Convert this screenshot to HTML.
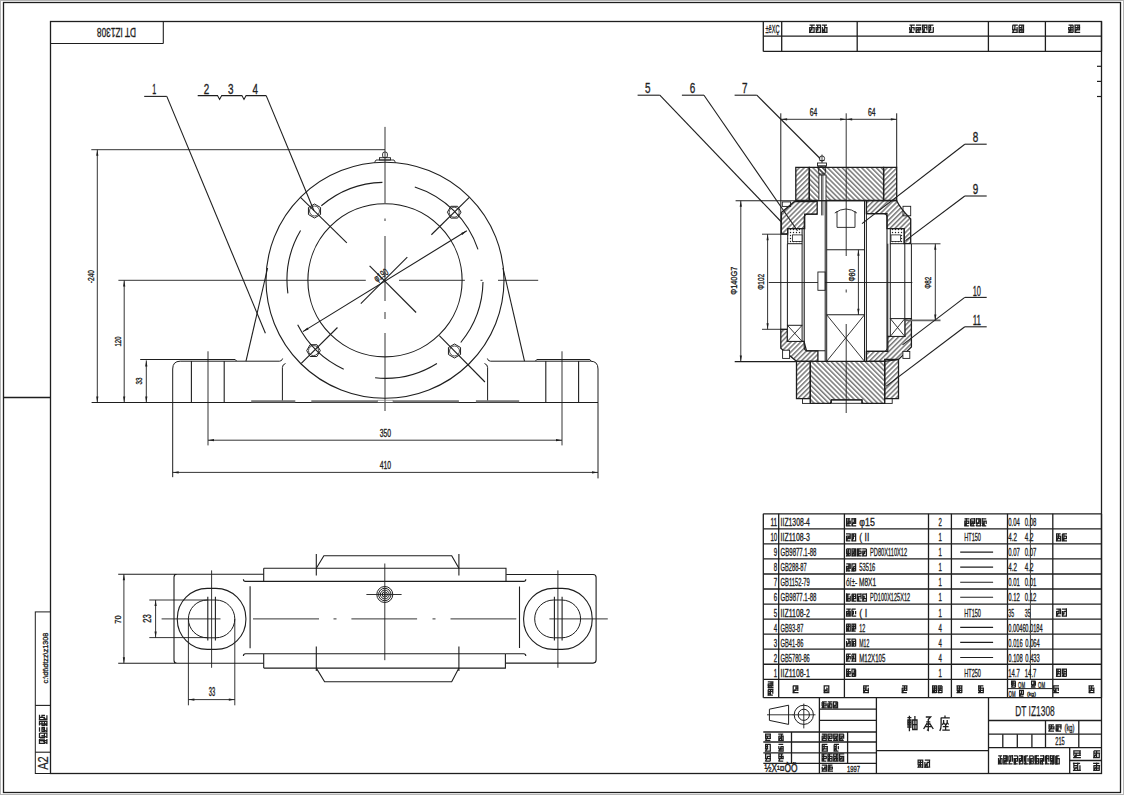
<!DOCTYPE html>
<html><head><meta charset="utf-8"><style>
html,body{margin:0;padding:0;background:#fff;overflow:hidden}
svg{display:block}
</style></head><body>
<svg width="1124" height="795" viewBox="0 0 1124 795" shape-rendering="geometricPrecision">
<defs>
<pattern id="hb" width="3.45" height="20" patternUnits="userSpaceOnUse" patternTransform="rotate(-45)"><line x1="0.8" y1="0" x2="0.8" y2="20" stroke="#1e1e1e" stroke-width="0.9"/></pattern>
<pattern id="hf" width="3.45" height="20" patternUnits="userSpaceOnUse" patternTransform="rotate(45)"><line x1="0.8" y1="0" x2="0.8" y2="20" stroke="#1e1e1e" stroke-width="0.9"/></pattern>
<pattern id="felt" width="3" height="3" patternUnits="userSpaceOnUse"><circle cx="1.5" cy="1.5" r="0.7" fill="#1e1e1e"/></pattern>
</defs>
<rect width="1124" height="795" fill="#fff"/>
<rect x="0" y="0" width="1124" height="1" fill="#b4b4b4"/>
<rect x="0" y="0" width="1" height="795" fill="#b4b4b4"/>
<rect x="1123" y="0" width="1" height="795" fill="#b4b4b4"/>
<rect x="0" y="794" width="1124" height="1" fill="#b4b4b4"/>
<rect x="3.50" y="2.50" width="1117.00" height="790.00" rx="0" fill="none" stroke="#1e1e1e" stroke-width="1.3"/>
<rect x="50.50" y="21.50" width="1051.00" height="752.00" rx="0" fill="none" stroke="#1e1e1e" stroke-width="1.3"/>
<line x1="3.50" y1="397.50" x2="50.50" y2="397.50" stroke="#1e1e1e" stroke-width="1.3" />
<line x1="1097.00" y1="66.30" x2="1101.50" y2="66.30" stroke="#1e1e1e" stroke-width="1.2" />
<line x1="1097.00" y1="81.40" x2="1101.50" y2="81.40" stroke="#1e1e1e" stroke-width="1.2" />
<line x1="1097.00" y1="96.50" x2="1101.50" y2="96.50" stroke="#1e1e1e" stroke-width="1.2" />
<rect x="35.30" y="611.90" width="15.20" height="161.60" rx="0" fill="none" stroke="#1e1e1e" stroke-width="1.0"/>
<line x1="35.30" y1="705.40" x2="50.50" y2="705.40" stroke="#1e1e1e" stroke-width="1.1" />
<line x1="35.30" y1="752.20" x2="50.50" y2="752.20" stroke="#1e1e1e" stroke-width="1.1" />
<text x="47.60" y="658.00" font-family="Liberation Sans" font-size="8" font-weight="normal" text-anchor="middle" fill="#1e1e1e" stroke="#1e1e1e" stroke-width="0.35" textLength="50.8" lengthAdjust="spacingAndGlyphs" transform="rotate(-90 47.60 658.00)">c:\dt\dtzz\z1308</text>
<path d="M39.35,744.70H43.75M41.27,747.17H41.82M38.80,749.63H41.82M39.35,752.10H43.75M39.46,744.00V750.16M42.10,744.00V752.36M43.64,744.88V750.16M39.07,752.62L41.27,748.40M45.02,744.70H49.70M47.23,747.17H47.77M44.75,749.63H49.70M44.75,752.10H50.25M45.41,744.00V750.16M46.95,746.64V750.16M49.59,744.88V752.36M45.02,752.62L47.23,748.40M50.97,744.70H55.65M51.25,747.17H55.65M50.70,749.63H55.65M51.25,752.10H55.65M51.36,746.64V750.16M54.00,746.64V750.16M55.54,746.64V750.16M50.97,752.62L53.17,748.40M57.20,744.70H62.15M57.20,747.17H62.15M59.12,749.63H62.15M57.20,752.10H61.60M57.31,746.64V750.16M58.85,744.00V752.80M61.49,744.88V752.80M56.92,752.62L59.12,748.40M63.15,744.70H68.10M65.07,747.17H68.10M62.60,749.63H65.62M63.15,752.10H67.55M63.26,744.00V752.36M65.35,744.88V750.16M67.44,746.64V750.16M62.87,752.62L65.07,748.40" stroke="#1e1e1e" stroke-width="1.25" fill="none" transform="rotate(-90 38.80 744.00)"/>
<text x="48.40" y="763.00" font-family="Liberation Sans" font-size="14.5" font-weight="normal" text-anchor="middle" fill="#1e1e1e" stroke="#1e1e1e" stroke-width="0.2" textLength="13.6" lengthAdjust="spacingAndGlyphs" transform="rotate(-90 48.40 763.00)">A2</text>
<line x1="163.30" y1="21.50" x2="163.30" y2="43.50" stroke="#1e1e1e" stroke-width="1.1" />
<line x1="50.50" y1="43.50" x2="163.30" y2="43.50" stroke="#1e1e1e" stroke-width="1.1" />
<text x="116.50" y="28.00" font-family="Liberation Sans" font-size="13" font-weight="normal" text-anchor="middle" fill="#1e1e1e" stroke="#1e1e1e" stroke-width="0.35" textLength="39.0" lengthAdjust="spacingAndGlyphs" transform="rotate(180 116.50 28.00)">DT IZ1308</text>
<ellipse cx="385.00" cy="280.30" rx="119.00" ry="118.00" fill="none" stroke="#1e1e1e" stroke-width="1.1"/>
<ellipse cx="385.00" cy="280.30" rx="77.10" ry="76.60" fill="none" stroke="#1e1e1e" stroke-width="1.1"/>
<path d="M321.35,205.78 A98.00,98.00 0 0 1 382.43,182.33" fill="none" stroke="#1e1e1e" stroke-width="1.1" />
<path d="M414.80,186.94 A98.00,98.00 0 0 1 477.99,249.37" fill="none" stroke="#1e1e1e" stroke-width="1.1" />
<path d="M287.88,293.43 A98.00,98.00 0 0 1 300.56,230.56" fill="none" stroke="#1e1e1e" stroke-width="1.1" />
<path d="M482.99,282.01 A98.00,98.00 0 0 1 460.73,342.50" fill="none" stroke="#1e1e1e" stroke-width="1.1" />
<path d="M343.74,369.19 A98.00,98.00 0 0 1 297.68,324.79" fill="none" stroke="#1e1e1e" stroke-width="1.1" />
<path d="M436.93,363.41 A98.00,98.00 0 0 1 375.10,377.80" fill="none" stroke="#1e1e1e" stroke-width="1.1" />
<polygon points="314.50,218.00 308.44,214.50 308.44,207.50 314.50,204.00 320.56,207.50 320.56,214.50" fill="none" stroke="#1e1e1e" stroke-width="1.0" />
<circle cx="314.50" cy="211.00" r="5.00" fill="none" stroke="#1e1e1e" stroke-width="0.8"/>
<polygon points="461.00,212.20 457.60,218.09 450.80,218.09 447.40,212.20 450.80,206.31 457.60,206.31" fill="none" stroke="#1e1e1e" stroke-width="1.0" />
<circle cx="454.20" cy="212.20" r="5.00" fill="none" stroke="#1e1e1e" stroke-width="0.8"/>
<polygon points="320.30,350.60 316.90,356.49 310.10,356.49 306.70,350.60 310.10,344.71 316.90,344.71" fill="none" stroke="#1e1e1e" stroke-width="1.0" />
<circle cx="313.50" cy="350.60" r="5.00" fill="none" stroke="#1e1e1e" stroke-width="0.8"/>
<polygon points="454.50,358.00 448.44,354.50 448.44,347.50 454.50,344.00 460.56,347.50 460.56,354.50" fill="none" stroke="#1e1e1e" stroke-width="1.0" />
<circle cx="454.50" cy="351.00" r="5.00" fill="none" stroke="#1e1e1e" stroke-width="0.8"/>
<line x1="346.84" y1="242.80" x2="300.27" y2="197.03" stroke="#1e1e1e" stroke-width="1.1" />
<line x1="431.36" y1="234.74" x2="469.31" y2="197.45" stroke="#1e1e1e" stroke-width="1.1" />
<line x1="337.46" y1="327.51" x2="301.27" y2="363.45" stroke="#1e1e1e" stroke-width="1.1" />
<line x1="439.32" y1="335.58" x2="484.95" y2="382.01" stroke="#1e1e1e" stroke-width="1.1" />
<line x1="369.60" y1="265.90" x2="416.10" y2="312.50" stroke="#1e1e1e" stroke-width="1.1" />
<line x1="407.30" y1="257.10" x2="360.80" y2="303.60" stroke="#1e1e1e" stroke-width="1.1" />
<line x1="302.90" y1="331.60" x2="466.80" y2="230.80" stroke="#1e1e1e" stroke-width="1.1" />
<polygon points="466.80,230.80 462.27,234.88 461.11,233.01" fill="#1e1e1e"/>
<polygon points="302.90,331.60 307.43,327.52 308.59,329.39" fill="#1e1e1e"/>
<text x="383.00" y="278.00" font-family="Liberation Sans" font-size="10" font-weight="normal" text-anchor="middle" fill="#1e1e1e" stroke="#1e1e1e" stroke-width="0.35" textLength="15.0" lengthAdjust="spacingAndGlyphs" transform="rotate(-35 383.00 278.00)">&#966;190</text>
<line x1="385.00" y1="126.90" x2="385.00" y2="203.00" stroke="#1e1e1e" stroke-width="0.9" />
<line x1="385.00" y1="218.50" x2="385.00" y2="221.00" stroke="#1e1e1e" stroke-width="0.9" />
<line x1="385.00" y1="236.00" x2="385.00" y2="301.00" stroke="#1e1e1e" stroke-width="0.9" />
<line x1="385.00" y1="312.00" x2="385.00" y2="319.00" stroke="#1e1e1e" stroke-width="0.9" />
<line x1="385.00" y1="333.00" x2="385.00" y2="411.00" stroke="#1e1e1e" stroke-width="0.9" />
<line x1="118.40" y1="280.30" x2="365.80" y2="280.30" stroke="#1e1e1e" stroke-width="0.9" />
<line x1="399.00" y1="280.30" x2="464.90" y2="280.30" stroke="#1e1e1e" stroke-width="0.9" />
<line x1="480.50" y1="280.30" x2="482.50" y2="280.30" stroke="#1e1e1e" stroke-width="0.9" />
<line x1="498.00" y1="280.30" x2="538.20" y2="280.30" stroke="#1e1e1e" stroke-width="0.9" />
<rect x="382.6" y="152.1" width="4.8" height="5.6" rx="1.8" fill="none" stroke="#1e1e1e" stroke-width="0.9"/>
<rect x="379.50" y="157.70" width="11.00" height="2.30" rx="0" fill="none" stroke="#1e1e1e" stroke-width="0.9"/>
<path d="M374.5,162.5 L376,160 L394,160 L395.5,162.5" fill="none" stroke="#1e1e1e" stroke-width="0.9" />
<line x1="91.30" y1="149.70" x2="385.00" y2="149.70" stroke="#1e1e1e" stroke-width="0.9" />
<line x1="246.00" y1="361.20" x2="267.60" y2="268.00" stroke="#1e1e1e" stroke-width="1.1" />
<line x1="524.50" y1="361.20" x2="503.00" y2="268.00" stroke="#1e1e1e" stroke-width="1.1" />
<path d="M140.2,359.5 H235.2 L236.5,361 M180.2,361.2 H279.5 M180.2,361.2 Q172.7,361.2 172.7,369 V477.2" fill="none" stroke="#1e1e1e" stroke-width="1.0" />
<path d="M490.5,361.2 H590.5 Q598,361.2 598,369 V478.4" fill="none" stroke="#1e1e1e" stroke-width="1.0" />
<line x1="191.40" y1="361.00" x2="191.40" y2="402.50" stroke="#1e1e1e" stroke-width="1.1" />
<line x1="224.20" y1="361.00" x2="224.20" y2="402.50" stroke="#1e1e1e" stroke-width="1.1" />
<line x1="545.80" y1="361.00" x2="545.80" y2="402.50" stroke="#1e1e1e" stroke-width="1.1" />
<line x1="578.60" y1="361.00" x2="578.60" y2="402.50" stroke="#1e1e1e" stroke-width="1.1" />
<line x1="208.00" y1="351.30" x2="208.00" y2="445.40" stroke="#1e1e1e" stroke-width="0.9" />
<line x1="562.00" y1="351.30" x2="562.00" y2="445.40" stroke="#1e1e1e" stroke-width="0.9" />
<path d="M279.5,361.2 Q282,361.2 282.6,358.5 M285.5,363.5 Q282.4,364.5 282.4,367.5 V402.5" fill="none" stroke="#1e1e1e" stroke-width="1.0" />
<path d="M490.5,361.2 Q488,361.2 487.4,358.5 M484.5,363.5 Q487.6,364.5 487.6,367.5 V402.5" fill="none" stroke="#1e1e1e" stroke-width="1.0" />
<path d="M535.5,361 L536.8,359.5 H589.9 L591,361" fill="none" stroke="#1e1e1e" stroke-width="1.0" />
<line x1="91.60" y1="402.50" x2="598.00" y2="402.50" stroke="#1e1e1e" stroke-width="1.1" />
<rect x="251.2" y="400.2" width="44.1" height="2.2" fill="#7a7a7a"/>
<rect x="311.3" y="400.2" width="66.4" height="2.2" fill="#7a7a7a"/>
<rect x="393" y="400.2" width="65.9" height="2.2" fill="#7a7a7a"/>
<rect x="475.9" y="400.2" width="43.3" height="2.2" fill="#7a7a7a"/>
<rect x="377.70" y="400.20" width="15.30" height="2.20" rx="0" fill="none" stroke="#777" stroke-width="0.6"/>
<line x1="97.30" y1="149.70" x2="97.30" y2="402.50" stroke="#1e1e1e" stroke-width="0.9" />
<polygon points="97.30,149.70 98.40,155.70 96.20,155.70" fill="#1e1e1e"/>
<polygon points="97.30,402.50 96.20,396.50 98.40,396.50" fill="#1e1e1e"/>
<text x="94.00" y="276.60" font-family="Liberation Sans" font-size="9" font-weight="normal" text-anchor="middle" fill="#1e1e1e" stroke="#1e1e1e" stroke-width="0.35" textLength="13.2" lengthAdjust="spacingAndGlyphs" transform="rotate(-90 94.00 276.60)">-240</text>
<line x1="124.20" y1="280.40" x2="124.20" y2="402.50" stroke="#1e1e1e" stroke-width="0.9" />
<polygon points="124.20,280.40 125.30,286.40 123.10,286.40" fill="#1e1e1e"/>
<polygon points="124.20,402.50 123.10,396.50 125.30,396.50" fill="#1e1e1e"/>
<text x="120.50" y="341.50" font-family="Liberation Sans" font-size="9" font-weight="normal" text-anchor="middle" fill="#1e1e1e" stroke="#1e1e1e" stroke-width="0.35" textLength="10.0" lengthAdjust="spacingAndGlyphs" transform="rotate(-90 120.50 341.50)">120</text>
<line x1="146.30" y1="360.40" x2="146.30" y2="402.50" stroke="#1e1e1e" stroke-width="0.9" />
<polygon points="146.30,360.40 147.40,366.40 145.20,366.40" fill="#1e1e1e"/>
<polygon points="146.30,402.50 145.20,396.50 147.40,396.50" fill="#1e1e1e"/>
<text x="142.00" y="381.00" font-family="Liberation Sans" font-size="9" font-weight="normal" text-anchor="middle" fill="#1e1e1e" stroke="#1e1e1e" stroke-width="0.35" textLength="7.0" lengthAdjust="spacingAndGlyphs" transform="rotate(-90 142.00 381.00)">33</text>
<line x1="208.00" y1="440.20" x2="562.00" y2="440.20" stroke="#1e1e1e" stroke-width="0.9" />
<polygon points="208.00,440.20 214.00,439.10 214.00,441.30" fill="#1e1e1e"/>
<polygon points="562.00,440.20 556.00,441.30 556.00,439.10" fill="#1e1e1e"/>
<text x="385.40" y="436.80" font-family="Liberation Sans" font-size="11" font-weight="normal" text-anchor="middle" fill="#1e1e1e" stroke="#1e1e1e" stroke-width="0.35" textLength="11.4" lengthAdjust="spacingAndGlyphs">350</text>
<line x1="172.70" y1="472.40" x2="598.00" y2="472.40" stroke="#1e1e1e" stroke-width="0.9" />
<polygon points="172.70,472.40 178.70,471.30 178.70,473.50" fill="#1e1e1e"/>
<polygon points="598.00,472.40 592.00,473.50 592.00,471.30" fill="#1e1e1e"/>
<text x="385.40" y="469.00" font-family="Liberation Sans" font-size="11" font-weight="normal" text-anchor="middle" fill="#1e1e1e" stroke="#1e1e1e" stroke-width="0.35" textLength="11.4" lengthAdjust="spacingAndGlyphs">410</text>
<line x1="144.20" y1="96.40" x2="166.80" y2="96.40" stroke="#1e1e1e" stroke-width="1.1" />
<line x1="166.80" y1="96.40" x2="265.40" y2="333.20" stroke="#1e1e1e" stroke-width="1.1" />
<text x="154.20" y="93.80" font-family="Liberation Sans" font-size="15" font-weight="normal" text-anchor="middle" fill="#1e1e1e" stroke="#1e1e1e" stroke-width="0.35" textLength="4.0" lengthAdjust="spacingAndGlyphs">1</text>
<polyline points="197.70,95.60 217.50,95.60 219.60,99.40 221.70,95.60 241.90,95.60 244.00,99.40 246.10,95.60 266.20,95.60" fill="none" stroke="#1e1e1e" stroke-width="1.1" />
<line x1="266.20" y1="95.60" x2="314.00" y2="210.80" stroke="#1e1e1e" stroke-width="1.1" />
<text x="206.40" y="93.80" font-family="Liberation Sans" font-size="15" font-weight="normal" text-anchor="middle" fill="#1e1e1e" stroke="#1e1e1e" stroke-width="0.35" textLength="5.5" lengthAdjust="spacingAndGlyphs">2</text>
<text x="230.70" y="93.80" font-family="Liberation Sans" font-size="15" font-weight="normal" text-anchor="middle" fill="#1e1e1e" stroke="#1e1e1e" stroke-width="0.35" textLength="5.5" lengthAdjust="spacingAndGlyphs">3</text>
<text x="255.30" y="93.80" font-family="Liberation Sans" font-size="15" font-weight="normal" text-anchor="middle" fill="#1e1e1e" stroke="#1e1e1e" stroke-width="0.35" textLength="5.5" lengthAdjust="spacingAndGlyphs">4</text>
<polygon points="795.80,167.30 809.30,167.30 809.30,200.50 795.80,200.50" fill="url(#hf)" stroke="#1e1e1e" stroke-width="1.3" />
<polygon points="809.30,167.30 883.60,167.30 883.60,200.50 809.30,200.50" fill="url(#hb)" stroke="#1e1e1e" stroke-width="1.3" />
<polygon points="883.60,167.30 896.70,167.30 896.70,200.50 883.60,200.50" fill="url(#hf)" stroke="#1e1e1e" stroke-width="1.3" />
<rect x="818.9" y="175" width="7.1" height="25.5" fill="#fff" stroke="#1e1e1e" stroke-width="0.9"/>
<line x1="821.60" y1="175.00" x2="821.60" y2="215.40" stroke="#1e1e1e" stroke-width="0.8" />
<line x1="822.90" y1="175.00" x2="822.90" y2="215.40" stroke="#1e1e1e" stroke-width="0.8" />
<rect x="817.5" y="163" width="9" height="3" fill="#fff" stroke="#1e1e1e" stroke-width="0.9"/>
<path d="M818,166 L826,166 L825,174 L819,174 Z" fill="url(#hb)" stroke="#1e1e1e" stroke-width="0.9"/>
<circle cx="822.00" cy="158.50" r="2.60" fill="none" stroke="#1e1e1e" stroke-width="0.9"/>
<line x1="822.00" y1="154.50" x2="822.00" y2="163.00" stroke="#1e1e1e" stroke-width="0.8" />
<line x1="819.50" y1="160.50" x2="824.50" y2="160.50" stroke="#1e1e1e" stroke-width="0.8" />
<polygon points="796.50,361.30 810.30,361.30 810.30,398.60 796.50,398.60" fill="url(#hf)" stroke="#1e1e1e" stroke-width="1.3" />
<polygon points="810.30,361.30 884.70,361.30 884.70,403.30 862.00,403.30 862.00,399.90 831.50,399.90 830.40,403.30 810.30,403.30" fill="url(#hb)" stroke="#1e1e1e" stroke-width="1.3" />
<polygon points="884.70,359.50 898.50,359.50 898.50,398.60 884.70,398.60" fill="url(#hf)" stroke="#1e1e1e" stroke-width="1.3" />
<rect x="802.50" y="398.60" width="7.80" height="4.80" rx="0" fill="none" stroke="#1e1e1e" stroke-width="0.9"/>
<rect x="884.70" y="398.60" width="7.50" height="4.80" rx="0" fill="none" stroke="#1e1e1e" stroke-width="0.9"/>
<rect x="831.50" y="399.90" width="30.50" height="3.40" rx="0" fill="none" stroke="#1e1e1e" stroke-width="0.9"/>
<polygon points="781.40,212.50 794.50,201.50 817.20,201.50 817.20,214.20 804.70,214.20 804.70,228.60 787.70,228.60 787.70,234.00 781.40,234.00" fill="url(#hf)" stroke="#1e1e1e" stroke-width="1.3" />
<rect x="782.30" y="201.90" width="8.30" height="4.50" rx="0" fill="none" stroke="#1e1e1e" stroke-width="0.9"/>
<rect x="787.7" y="228.6" width="14.4" height="15.1" fill="url(#felt)" stroke="#1e1e1e" stroke-width="1"/>
<rect x="792.50" y="234.90" width="9.50" height="6.50" rx="0" fill="#fff" stroke="#1e1e1e" stroke-width="0.8"/>
<polygon points="780.80,329.40 787.40,329.40 787.40,341.40 804.00,341.40 806.50,350.80 817.90,350.80 817.90,361.30 796.50,361.30 780.80,348.30" fill="url(#hf)" stroke="#1e1e1e" stroke-width="1.3" />
<rect x="782.60" y="350.20" width="7.00" height="8.20" rx="0" fill="#fff" stroke="#1e1e1e" stroke-width="0.9"/>
<rect x="787.40" y="325.30" width="14.70" height="16.10" rx="0" fill="#fff" stroke="#1e1e1e" stroke-width="1.0"/>
<line x1="787.40" y1="325.30" x2="802.10" y2="341.40" stroke="#1e1e1e" stroke-width="0.9" />
<line x1="802.10" y1="325.30" x2="787.40" y2="341.40" stroke="#1e1e1e" stroke-width="0.9" />
<path d="M866.4,200.7 H896.7 Q900,208 910.7,219 V243.7 H904.2 V228.6 H887 V213.7 H866.4 Z" fill="url(#hf)" stroke="#1e1e1e" stroke-width="1.3" />
<rect x="903.00" y="206.30" width="7.70" height="9.50" rx="0" fill="none" stroke="#1e1e1e" stroke-width="0.9"/>
<rect x="890.3" y="228.6" width="13.9" height="15.1" fill="url(#felt)" stroke="#1e1e1e" stroke-width="1"/>
<rect x="891.00" y="234.90" width="9.50" height="6.50" rx="0" fill="#fff" stroke="#1e1e1e" stroke-width="0.8"/>
<polygon points="866.40,351.40 887.80,351.40 887.80,336.40 904.80,336.40 904.80,318.60 911.40,318.60 911.40,347.00 898.50,359.50 884.70,361.30 866.40,361.30" fill="url(#hf)" stroke="#1e1e1e" stroke-width="1.3" />
<rect x="902.90" y="351.40" width="6.90" height="7.00" rx="0" fill="#fff" stroke="#1e1e1e" stroke-width="0.9"/>
<rect x="890.30" y="318.60" width="14.50" height="17.80" rx="0" fill="#fff" stroke="#1e1e1e" stroke-width="1.0"/>
<line x1="890.30" y1="318.60" x2="904.80" y2="336.40" stroke="#1e1e1e" stroke-width="0.9" />
<line x1="904.80" y1="318.60" x2="890.30" y2="336.40" stroke="#1e1e1e" stroke-width="0.9" />
<line x1="780.80" y1="113.30" x2="780.80" y2="329.40" stroke="#1e1e1e" stroke-width="1.0" />
<line x1="787.40" y1="243.70" x2="787.40" y2="325.30" stroke="#1e1e1e" stroke-width="1.0" />
<line x1="802.10" y1="243.70" x2="802.10" y2="325.30" stroke="#1e1e1e" stroke-width="1.0" />
<line x1="825.20" y1="200.50" x2="825.20" y2="361.30" stroke="#1e1e1e" stroke-width="1.0" />
<line x1="826.70" y1="200.50" x2="826.70" y2="361.30" stroke="#1e1e1e" stroke-width="1.0" />
<line x1="864.50" y1="200.50" x2="864.50" y2="361.30" stroke="#1e1e1e" stroke-width="1.0" />
<line x1="866.40" y1="200.50" x2="866.40" y2="361.30" stroke="#1e1e1e" stroke-width="1.0" />
<line x1="887.80" y1="243.70" x2="887.80" y2="336.40" stroke="#1e1e1e" stroke-width="1.0" />
<line x1="890.30" y1="243.70" x2="890.30" y2="318.60" stroke="#1e1e1e" stroke-width="1.0" />
<line x1="904.80" y1="243.70" x2="904.80" y2="318.60" stroke="#1e1e1e" stroke-width="1.0" />
<line x1="911.40" y1="243.70" x2="911.40" y2="318.60" stroke="#1e1e1e" stroke-width="1.0" />
<line x1="896.70" y1="113.30" x2="896.70" y2="167.30" stroke="#1e1e1e" stroke-width="1.0" />
<line x1="826.70" y1="249.80" x2="864.50" y2="249.80" stroke="#1e1e1e" stroke-width="1.1" />
<line x1="826.70" y1="314.80" x2="864.50" y2="314.80" stroke="#1e1e1e" stroke-width="1.1" />
<line x1="826.70" y1="314.80" x2="864.50" y2="361.30" stroke="#1e1e1e" stroke-width="0.9" />
<line x1="864.50" y1="314.80" x2="826.70" y2="361.30" stroke="#1e1e1e" stroke-width="0.9" />
<path d="M834.8,213 Q846,205 856.9,213 M837,211 V227.4 H855 V211" fill="none" stroke="#1e1e1e" stroke-width="0.9" />
<rect x="817.90" y="272.00" width="7.30" height="18.30" rx="0" fill="none" stroke="#1e1e1e" stroke-width="0.9"/>
<path d="M817.2,214.2 H807.7 Q804.2,214.2 804.2,217.7 V347.3 Q804.2,350.8 807.7,350.8 H825.2" fill="none" stroke="#1e1e1e" stroke-width="1.1" />
<path d="M866.4,213.7 H883.5 Q887,213.7 887,217.2 V347.9 Q887,351.4 883.5,351.4 H866.4" fill="none" stroke="#1e1e1e" stroke-width="1.1" />
<line x1="735.60" y1="200.70" x2="866.40" y2="200.70" stroke="#1e1e1e" stroke-width="1.1" />
<line x1="734.70" y1="361.60" x2="796.50" y2="361.60" stroke="#1e1e1e" stroke-width="1.1" />
<line x1="762.00" y1="234.20" x2="787.40" y2="234.20" stroke="#1e1e1e" stroke-width="0.9" />
<line x1="762.00" y1="329.30" x2="787.00" y2="329.30" stroke="#1e1e1e" stroke-width="0.9" />
<line x1="911.40" y1="243.80" x2="940.50" y2="243.80" stroke="#1e1e1e" stroke-width="0.9" />
<line x1="905.40" y1="320.40" x2="940.50" y2="320.40" stroke="#666" stroke-width="1.6" />
<line x1="846.20" y1="113.30" x2="846.20" y2="256.00" stroke="#1e1e1e" stroke-width="0.9" />
<line x1="846.20" y1="289.50" x2="846.20" y2="292.50" stroke="#1e1e1e" stroke-width="0.9" />
<line x1="846.20" y1="324.00" x2="846.20" y2="413.00" stroke="#1e1e1e" stroke-width="0.9" />
<line x1="768.70" y1="282.50" x2="817.90" y2="282.50" stroke="#1e1e1e" stroke-width="0.9" />
<line x1="825.20" y1="282.50" x2="912.30" y2="282.50" stroke="#1e1e1e" stroke-width="0.9" />
<line x1="781.10" y1="119.30" x2="896.80" y2="119.30" stroke="#1e1e1e" stroke-width="0.9" />
<polygon points="781.10,119.30 787.10,118.20 787.10,120.40" fill="#1e1e1e"/>
<polygon points="846.20,119.30 840.20,120.40 840.20,118.20" fill="#1e1e1e"/>
<polygon points="846.20,119.30 852.20,118.20 852.20,120.40" fill="#1e1e1e"/>
<polygon points="896.80,119.30 890.80,120.40 890.80,118.20" fill="#1e1e1e"/>
<text x="813.40" y="116.30" font-family="Liberation Sans" font-size="10" font-weight="normal" text-anchor="middle" fill="#1e1e1e" stroke="#1e1e1e" stroke-width="0.35" textLength="7.5" lengthAdjust="spacingAndGlyphs">64</text>
<text x="871.80" y="116.30" font-family="Liberation Sans" font-size="10" font-weight="normal" text-anchor="middle" fill="#1e1e1e" stroke="#1e1e1e" stroke-width="0.35" textLength="7.5" lengthAdjust="spacingAndGlyphs">64</text>
<line x1="740.80" y1="200.70" x2="740.80" y2="361.60" stroke="#1e1e1e" stroke-width="0.9" />
<polygon points="740.80,200.70 741.90,206.70 739.70,206.70" fill="#1e1e1e"/>
<polygon points="740.80,361.60 739.70,355.60 741.90,355.60" fill="#1e1e1e"/>
<text x="737.20" y="280.70" font-family="Liberation Sans" font-size="9" font-weight="normal" text-anchor="middle" fill="#1e1e1e" stroke="#1e1e1e" stroke-width="0.35" textLength="28.0" lengthAdjust="spacingAndGlyphs" transform="rotate(-90 737.20 280.70)">&#934;140G7</text>
<line x1="767.60" y1="234.20" x2="767.60" y2="329.30" stroke="#1e1e1e" stroke-width="0.9" />
<polygon points="767.60,234.20 768.70,240.20 766.50,240.20" fill="#1e1e1e"/>
<polygon points="767.60,329.30 766.50,323.30 768.70,323.30" fill="#1e1e1e"/>
<text x="764.00" y="281.80" font-family="Liberation Sans" font-size="9" font-weight="normal" text-anchor="middle" fill="#1e1e1e" stroke="#1e1e1e" stroke-width="0.35" textLength="16.0" lengthAdjust="spacingAndGlyphs" transform="rotate(-90 764.00 281.80)">&#934;102</text>
<line x1="858.40" y1="249.80" x2="858.40" y2="314.80" stroke="#1e1e1e" stroke-width="0.9" />
<polygon points="858.40,249.80 859.50,255.80 857.30,255.80" fill="#1e1e1e"/>
<polygon points="858.40,314.80 857.30,308.80 859.50,308.80" fill="#1e1e1e"/>
<text x="855.40" y="275.20" font-family="Liberation Sans" font-size="9" font-weight="normal" text-anchor="middle" fill="#1e1e1e" stroke="#1e1e1e" stroke-width="0.35" textLength="12.6" lengthAdjust="spacingAndGlyphs" transform="rotate(-90 855.40 275.20)">&#934;80</text>
<line x1="935.30" y1="243.80" x2="935.30" y2="320.40" stroke="#1e1e1e" stroke-width="0.9" />
<polygon points="935.30,243.80 936.40,249.80 934.20,249.80" fill="#1e1e1e"/>
<polygon points="935.30,320.40 934.20,314.40 936.40,314.40" fill="#1e1e1e"/>
<text x="931.50" y="282.80" font-family="Liberation Sans" font-size="9" font-weight="normal" text-anchor="middle" fill="#1e1e1e" stroke="#1e1e1e" stroke-width="0.35" textLength="12.0" lengthAdjust="spacingAndGlyphs" transform="rotate(-90 931.50 282.80)">&#934;82</text>
<line x1="637.60" y1="95.20" x2="659.80" y2="95.20" stroke="#1e1e1e" stroke-width="1.1" />
<line x1="659.80" y1="95.20" x2="781.40" y2="222.00" stroke="#1e1e1e" stroke-width="1.1" />
<text x="647.70" y="93.10" font-family="Liberation Sans" font-size="15" font-weight="normal" text-anchor="middle" fill="#1e1e1e" stroke="#1e1e1e" stroke-width="0.35" textLength="5.5" lengthAdjust="spacingAndGlyphs">5</text>
<line x1="681.90" y1="95.20" x2="704.00" y2="95.20" stroke="#1e1e1e" stroke-width="1.1" />
<line x1="704.00" y1="95.20" x2="797.50" y2="230.80" stroke="#1e1e1e" stroke-width="1.1" />
<text x="692.40" y="93.10" font-family="Liberation Sans" font-size="15" font-weight="normal" text-anchor="middle" fill="#1e1e1e" stroke="#1e1e1e" stroke-width="0.35" textLength="5.5" lengthAdjust="spacingAndGlyphs">6</text>
<line x1="734.60" y1="95.20" x2="756.80" y2="95.20" stroke="#1e1e1e" stroke-width="1.1" />
<line x1="756.80" y1="95.20" x2="820.10" y2="158.50" stroke="#1e1e1e" stroke-width="1.1" />
<text x="744.70" y="93.10" font-family="Liberation Sans" font-size="15" font-weight="normal" text-anchor="middle" fill="#1e1e1e" stroke="#1e1e1e" stroke-width="0.35" textLength="5.5" lengthAdjust="spacingAndGlyphs">7</text>
<line x1="964.80" y1="144.20" x2="986.70" y2="144.20" stroke="#1e1e1e" stroke-width="1.1" />
<line x1="964.80" y1="144.20" x2="862.00" y2="223.60" stroke="#1e1e1e" stroke-width="1.1" />
<text x="975.50" y="142.40" font-family="Liberation Sans" font-size="15" font-weight="normal" text-anchor="middle" fill="#1e1e1e" stroke="#1e1e1e" stroke-width="0.35" textLength="5.5" lengthAdjust="spacingAndGlyphs">8</text>
<line x1="964.80" y1="196.00" x2="986.70" y2="196.00" stroke="#1e1e1e" stroke-width="1.1" />
<line x1="964.80" y1="196.00" x2="905.40" y2="240.60" stroke="#1e1e1e" stroke-width="1.1" />
<text x="975.50" y="194.20" font-family="Liberation Sans" font-size="15" font-weight="normal" text-anchor="middle" fill="#1e1e1e" stroke="#1e1e1e" stroke-width="0.35" textLength="5.5" lengthAdjust="spacingAndGlyphs">9</text>
<line x1="964.80" y1="297.40" x2="986.70" y2="297.40" stroke="#1e1e1e" stroke-width="1.1" />
<line x1="964.80" y1="297.40" x2="902.50" y2="344.90" stroke="#1e1e1e" stroke-width="1.1" />
<text x="976.80" y="295.60" font-family="Liberation Sans" font-size="15" font-weight="normal" text-anchor="middle" fill="#1e1e1e" stroke="#1e1e1e" stroke-width="0.35" textLength="8.3" lengthAdjust="spacingAndGlyphs">10</text>
<line x1="964.80" y1="326.80" x2="986.70" y2="326.80" stroke="#1e1e1e" stroke-width="1.1" />
<line x1="964.80" y1="326.80" x2="885.90" y2="386.40" stroke="#1e1e1e" stroke-width="1.1" />
<text x="976.80" y="325.00" font-family="Liberation Sans" font-size="15" font-weight="normal" text-anchor="middle" fill="#1e1e1e" stroke="#1e1e1e" stroke-width="0.35" textLength="8.3" lengthAdjust="spacingAndGlyphs">11</text>
<path d="M118.2,574.3 H263.7 M174,577.3 Q174,574.3 177,574.3 M174,577.3 V660.2 Q174,663.2 177,663.2 M118.2,663.2 H263.7" fill="none" stroke="#1e1e1e" stroke-width="1.1" />
<path d="M506.2,574.5 H593.1 Q596.1,574.5 596.1,577.5 V660.1 Q596.1,663.1 593.1,663.1 H506" fill="none" stroke="#1e1e1e" stroke-width="1.1" />
<path d="M263.7,568.2 H506 V581.4 M263.7,568.2 V581.4 M245.5,581.4 H506 M245.5,581.4 Q243.4,581.4 243.4,579.3" fill="none" stroke="#1e1e1e" stroke-width="1.1" />
<path d="M263.7,668.1 H505.4 V653.8 M263.7,668.1 V653.8 M245.5,653.8 H505.4 M245.5,653.8 Q243.4,653.8 243.4,655.9" fill="none" stroke="#1e1e1e" stroke-width="1.1" />
<path d="M506,581.4 H523.7 Q525.8,581.4 525.8,579.3 M505.4,653.8 H523.7 Q525.8,653.8 525.8,655.9" fill="none" stroke="#1e1e1e" stroke-width="1.1" />
<path d="M316.3,568.2 L323.9,555.8 H451.7 L458.9,568.2" fill="none" stroke="#1e1e1e" stroke-width="1.1" />
<path d="M316.3,668.1 L324.6,681.7 H451.7 L458.9,668.1" fill="none" stroke="#1e1e1e" stroke-width="1.1" />
<line x1="316.30" y1="553.90" x2="316.30" y2="575.40" stroke="#1e1e1e" stroke-width="1.1" />
<line x1="316.30" y1="646.60" x2="316.30" y2="671.00" stroke="#1e1e1e" stroke-width="1.1" />
<line x1="458.90" y1="553.90" x2="458.90" y2="575.40" stroke="#1e1e1e" stroke-width="1.1" />
<line x1="458.90" y1="646.60" x2="458.90" y2="671.00" stroke="#1e1e1e" stroke-width="1.1" />
<line x1="250.10" y1="586.20" x2="250.10" y2="648.30" stroke="#1e1e1e" stroke-width="1.1" />
<line x1="519.50" y1="586.50" x2="519.50" y2="648.00" stroke="#1e1e1e" stroke-width="1.1" />
<rect x="177.30" y="588.40" width="68.60" height="61.00" rx="30" fill="none" stroke="#1e1e1e" stroke-width="1.1"/>
<rect x="188.40" y="600.00" width="46.40" height="37.80" rx="18.9" fill="none" stroke="#1e1e1e" stroke-width="1.0"/>
<line x1="207.80" y1="596.80" x2="207.80" y2="640.40" stroke="#1e1e1e" stroke-width="1.1" />
<line x1="215.40" y1="596.80" x2="215.40" y2="640.40" stroke="#1e1e1e" stroke-width="1.1" />
<line x1="211.60" y1="570.40" x2="211.60" y2="667.80" stroke="#1e1e1e" stroke-width="0.9" />
<rect x="523.60" y="588.40" width="68.60" height="61.00" rx="30" fill="none" stroke="#1e1e1e" stroke-width="1.1"/>
<rect x="534.70" y="600.00" width="45.90" height="37.80" rx="18.9" fill="none" stroke="#1e1e1e" stroke-width="1.0"/>
<line x1="554.40" y1="596.80" x2="554.40" y2="640.40" stroke="#1e1e1e" stroke-width="1.1" />
<line x1="562.10" y1="596.80" x2="562.10" y2="640.40" stroke="#1e1e1e" stroke-width="1.1" />
<line x1="557.90" y1="570.40" x2="557.90" y2="667.80" stroke="#1e1e1e" stroke-width="0.9" />
<line x1="161.60" y1="618.90" x2="220.50" y2="618.90" stroke="#1e1e1e" stroke-width="0.9" />
<line x1="549.40" y1="618.90" x2="607.80" y2="618.90" stroke="#1e1e1e" stroke-width="0.9" />
<line x1="253.00" y1="618.90" x2="319.00" y2="618.90" stroke="#1e1e1e" stroke-width="0.9" />
<line x1="333.50" y1="618.90" x2="336.50" y2="618.90" stroke="#1e1e1e" stroke-width="0.9" />
<line x1="351.40" y1="618.90" x2="417.10" y2="618.90" stroke="#1e1e1e" stroke-width="0.9" />
<line x1="432.50" y1="618.90" x2="435.50" y2="618.90" stroke="#1e1e1e" stroke-width="0.9" />
<line x1="450.50" y1="618.90" x2="516.30" y2="618.90" stroke="#1e1e1e" stroke-width="0.9" />
<line x1="384.80" y1="563.50" x2="384.80" y2="660.20" stroke="#1e1e1e" stroke-width="0.9" />
<circle cx="384.80" cy="594.50" r="8.00" fill="none" stroke="#1e1e1e" stroke-width="1.0"/>
<circle cx="384.80" cy="594.50" r="6.20" fill="none" stroke="#1e1e1e" stroke-width="1.0"/>
<circle cx="384.80" cy="594.50" r="4.40" fill="none" stroke="#1e1e1e" stroke-width="1.0"/>
<circle cx="384.80" cy="594.50" r="2.60" fill="none" stroke="#1e1e1e" stroke-width="1.0"/>
<circle cx="384.80" cy="594.50" r="1.00" fill="#1e1e1e" stroke="#1e1e1e" stroke-width="0.6"/>
<line x1="366.40" y1="594.50" x2="401.60" y2="594.50" stroke="#1e1e1e" stroke-width="0.9" />
<line x1="123.90" y1="574.30" x2="123.90" y2="663.20" stroke="#1e1e1e" stroke-width="0.9" />
<polygon points="123.90,574.30 125.00,580.30 122.80,580.30" fill="#1e1e1e"/>
<polygon points="123.90,663.20 122.80,657.20 125.00,657.20" fill="#1e1e1e"/>
<text x="121.00" y="619.40" font-family="Liberation Sans" font-size="9" font-weight="normal" text-anchor="middle" fill="#1e1e1e" stroke="#1e1e1e" stroke-width="0.35" textLength="8.5" lengthAdjust="spacingAndGlyphs" transform="rotate(-90 121.00 619.40)">70</text>
<line x1="149.30" y1="600.00" x2="207.80" y2="600.00" stroke="#1e1e1e" stroke-width="0.9" />
<line x1="149.30" y1="637.60" x2="207.80" y2="637.60" stroke="#1e1e1e" stroke-width="0.9" />
<line x1="155.60" y1="600.00" x2="155.60" y2="637.60" stroke="#1e1e1e" stroke-width="0.9" />
<polygon points="155.60,600.00 156.70,606.00 154.50,606.00" fill="#1e1e1e"/>
<polygon points="155.60,637.60 154.50,631.60 156.70,631.60" fill="#1e1e1e"/>
<text x="150.80" y="618.50" font-family="Liberation Sans" font-size="10" font-weight="normal" text-anchor="middle" fill="#1e1e1e" stroke="#1e1e1e" stroke-width="0.35" textLength="8.5" lengthAdjust="spacingAndGlyphs" transform="rotate(-90 150.80 618.50)">23</text>
<line x1="188.40" y1="618.90" x2="188.40" y2="705.30" stroke="#1e1e1e" stroke-width="0.9" />
<line x1="234.80" y1="618.90" x2="234.80" y2="705.30" stroke="#1e1e1e" stroke-width="0.9" />
<line x1="188.40" y1="699.60" x2="234.80" y2="699.60" stroke="#1e1e1e" stroke-width="0.9" />
<polygon points="188.40,699.60 194.40,698.50 194.40,700.70" fill="#1e1e1e"/>
<polygon points="234.80,699.60 228.80,700.70 228.80,698.50" fill="#1e1e1e"/>
<text x="211.90" y="695.90" font-family="Liberation Sans" font-size="12" font-weight="normal" text-anchor="middle" fill="#1e1e1e" stroke="#1e1e1e" stroke-width="0.35" textLength="6.5" lengthAdjust="spacingAndGlyphs">33</text>
<line x1="763.30" y1="21.50" x2="763.30" y2="51.40" stroke="#1e1e1e" stroke-width="1.3" />
<line x1="1101.50" y1="21.50" x2="1101.50" y2="51.40" stroke="#1e1e1e" stroke-width="1.3" />
<line x1="763.30" y1="36.10" x2="1101.50" y2="36.10" stroke="#1e1e1e" stroke-width="1.3" />
<line x1="763.30" y1="51.40" x2="1101.50" y2="51.40" stroke="#1e1e1e" stroke-width="1.3" />
<line x1="781.70" y1="21.50" x2="781.70" y2="51.40" stroke="#1e1e1e" stroke-width="1.3" />
<line x1="857.20" y1="21.50" x2="857.20" y2="51.40" stroke="#1e1e1e" stroke-width="1.3" />
<line x1="988.40" y1="21.50" x2="988.40" y2="51.40" stroke="#1e1e1e" stroke-width="1.3" />
<line x1="1045.40" y1="21.50" x2="1045.40" y2="51.40" stroke="#1e1e1e" stroke-width="1.3" />
<text x="772.50" y="33.20" font-family="Liberation Sans" font-size="11" font-weight="normal" text-anchor="middle" fill="#1e1e1e" stroke="#1e1e1e" stroke-width="0.35" textLength="14.0" lengthAdjust="spacingAndGlyphs">&#177;&#234;X&#199;</text>
<path d="M809.58,25.18H814.80M809.58,27.56H814.80M811.61,29.94H812.19M809.00,32.32H814.80M809.70,27.05V33.00M811.90,24.50V30.45M814.10,27.05V33.00M809.29,32.83L811.61,28.75M815.98,25.18H821.20M815.98,27.56H821.20M815.98,29.94H818.59M815.98,32.32H821.20M816.10,27.05V30.45M817.72,25.35V30.45M820.50,24.50V32.58M815.69,32.83L818.01,28.75M822.09,25.18H827.02M824.41,27.56H827.60M824.41,29.94H824.99M822.09,32.32H827.60M822.50,27.05V32.58M824.70,24.50V32.58M826.90,27.05V32.58M822.09,32.83L824.41,28.75" stroke="#1e1e1e" stroke-width="1.25" fill="none"/>
<path d="M909.58,25.18H914.80M911.61,27.56H914.22M909.29,29.94H912.19M909.29,32.32H914.22M909.70,27.05V30.45M911.32,24.50V32.58M914.10,27.05V30.45M909.29,32.83L911.61,28.75M915.98,25.18H921.20M915.40,27.56H920.62M918.01,29.94H921.20M915.98,32.32H920.62M916.10,27.05V33.00M918.88,27.05V33.00M920.50,27.05V30.45M915.69,32.83L918.01,28.75M922.38,25.18H927.60M924.41,27.56H927.60M924.41,29.94H924.99M922.38,32.32H927.60M922.50,24.50V30.45M924.12,24.50V32.58M926.90,24.50V30.45M922.09,32.83L924.41,28.75M928.78,25.18H933.42M928.20,27.56H931.39M928.49,29.94H931.39M928.78,32.32H933.42M928.90,24.50V33.00M930.52,25.35V30.45M933.30,27.05V32.58M928.49,32.83L930.81,28.75" stroke="#1e1e1e" stroke-width="1.25" fill="none"/>
<path d="M1012.58,25.18H1017.80M1014.61,27.56H1015.19M1012.00,29.94H1017.80M1012.58,32.32H1017.80M1012.70,25.35V30.45M1014.90,24.50V30.45M1017.10,27.05V32.58M1012.29,32.83L1014.61,28.75M1018.98,25.18H1024.20M1018.69,27.56H1021.59M1018.69,29.94H1024.20M1018.69,32.32H1023.62M1019.10,25.35V33.00M1021.88,24.50V33.00M1023.50,25.35V33.00M1018.69,32.83L1021.01,28.75" stroke="#1e1e1e" stroke-width="1.25" fill="none"/>
<path d="M1068.58,25.18H1073.22M1068.58,27.56H1073.22M1068.58,29.94H1073.22M1068.29,32.32H1073.22M1068.70,27.05V30.45M1070.90,24.50V33.00M1073.10,25.35V32.58M1068.29,32.83L1070.61,28.75M1074.40,25.18H1079.62M1074.98,27.56H1080.20M1074.98,29.94H1079.62M1074.98,32.32H1080.20M1075.10,25.35V32.58M1077.88,24.50V30.45M1079.50,24.50V30.45M1074.69,32.83L1077.01,28.75" stroke="#1e1e1e" stroke-width="1.25" fill="none"/>
<line x1="763.30" y1="513.80" x2="1101.50" y2="513.80" stroke="#1e1e1e" stroke-width="1.3" />
<line x1="763.30" y1="528.84" x2="1101.50" y2="528.84" stroke="#1e1e1e" stroke-width="1.3" />
<line x1="763.30" y1="543.89" x2="1101.50" y2="543.89" stroke="#1e1e1e" stroke-width="1.3" />
<line x1="763.30" y1="558.93" x2="1101.50" y2="558.93" stroke="#1e1e1e" stroke-width="1.3" />
<line x1="763.30" y1="573.98" x2="1101.50" y2="573.98" stroke="#1e1e1e" stroke-width="1.3" />
<line x1="763.30" y1="589.02" x2="1101.50" y2="589.02" stroke="#1e1e1e" stroke-width="1.3" />
<line x1="763.30" y1="604.07" x2="1101.50" y2="604.07" stroke="#1e1e1e" stroke-width="1.3" />
<line x1="763.30" y1="619.12" x2="1101.50" y2="619.12" stroke="#1e1e1e" stroke-width="1.3" />
<line x1="763.30" y1="634.16" x2="1101.50" y2="634.16" stroke="#1e1e1e" stroke-width="1.3" />
<line x1="763.30" y1="649.20" x2="1101.50" y2="649.20" stroke="#1e1e1e" stroke-width="1.3" />
<line x1="763.30" y1="664.25" x2="1101.50" y2="664.25" stroke="#1e1e1e" stroke-width="1.3" />
<line x1="763.30" y1="679.29" x2="1101.50" y2="679.29" stroke="#1e1e1e" stroke-width="1.3" />
<line x1="763.30" y1="697.70" x2="1101.50" y2="697.70" stroke="#1e1e1e" stroke-width="1.3" />
<line x1="763.30" y1="513.80" x2="763.30" y2="697.70" stroke="#1e1e1e" stroke-width="1.3" />
<line x1="778.70" y1="513.80" x2="778.70" y2="697.70" stroke="#1e1e1e" stroke-width="1.3" />
<line x1="844.40" y1="513.80" x2="844.40" y2="697.70" stroke="#1e1e1e" stroke-width="1.3" />
<line x1="928.50" y1="513.80" x2="928.50" y2="697.70" stroke="#1e1e1e" stroke-width="1.3" />
<line x1="951.40" y1="513.80" x2="951.40" y2="697.70" stroke="#1e1e1e" stroke-width="1.3" />
<line x1="1007.50" y1="513.80" x2="1007.50" y2="697.70" stroke="#1e1e1e" stroke-width="1.3" />
<line x1="1052.80" y1="513.80" x2="1052.80" y2="697.70" stroke="#1e1e1e" stroke-width="1.3" />
<line x1="1101.50" y1="513.80" x2="1101.50" y2="697.70" stroke="#1e1e1e" stroke-width="1.3" />
<line x1="1030.40" y1="513.80" x2="1030.40" y2="679.30" stroke="#444" stroke-width="1.0" />
<line x1="1007.50" y1="688.60" x2="1052.80" y2="688.60" stroke="#1e1e1e" stroke-width="1.0" />
<text x="777.20" y="526.24" font-family="Liberation Sans" font-size="11.2" font-weight="normal" text-anchor="end" fill="#1e1e1e" stroke="#1e1e1e" stroke-width="0.35" textLength="6.8" lengthAdjust="spacingAndGlyphs">11</text>
<text x="780.60" y="526.24" font-family="Liberation Sans" font-size="11.2" font-weight="normal" text-anchor="start" fill="#1e1e1e" stroke="#1e1e1e" stroke-width="0.35" textLength="29.2" lengthAdjust="spacingAndGlyphs">IIZ1308-4</text>
<path d="M846.48,518.77H850.32M846.48,521.12H850.32M848.16,523.48H848.64M846.48,525.83H850.80M846.58,518.10V526.50M848.88,518.10V526.08M850.22,520.62V523.98M846.24,526.33L848.16,522.30M851.88,518.77H855.72M853.56,521.12H856.20M851.40,523.48H856.20M851.88,525.83H856.20M851.98,518.10V526.50M854.28,518.10V523.98M855.62,518.10V523.98M851.64,526.33L853.56,522.30" stroke="#1e1e1e" stroke-width="1.25" fill="none"/>
<text x="859.30" y="526.24" font-family="Liberation Sans" font-size="11.2" font-weight="normal" text-anchor="start" fill="#1e1e1e" stroke="#1e1e1e" stroke-width="0.35" textLength="15.5" lengthAdjust="spacingAndGlyphs"> &#966;15</text>
<text x="940.20" y="526.24" font-family="Liberation Sans" font-size="11.2" font-weight="normal" text-anchor="middle" fill="#1e1e1e" stroke="#1e1e1e" stroke-width="0.35" textLength="3.4" lengthAdjust="spacingAndGlyphs">2</text>
<path d="M964.46,518.77H969.40M964.46,521.12H969.40M964.72,523.48H968.88M964.46,525.83H968.88M964.82,520.62V526.50M966.28,518.10V526.50M968.78,520.62V523.98M964.46,526.33L966.54,522.30M970.52,518.77H974.68M970.26,521.12H972.86M970.52,523.48H974.68M970.52,525.83H974.68M970.62,518.94V526.08M973.12,520.62V526.08M974.58,518.10V523.98M970.26,526.33L972.34,522.30M976.32,518.77H981.00M978.14,521.12H980.48M976.06,523.48H978.66M976.32,525.83H980.48M976.42,518.10V523.98M978.92,518.10V523.98M980.38,518.94V526.50M976.06,526.33L978.14,522.30M981.60,518.77H986.28M982.12,521.12H986.80M981.60,523.48H984.46M981.86,525.83H986.28M982.22,518.10V523.98M984.20,520.62V526.08M986.18,520.62V523.98M981.86,526.33L983.94,522.30" stroke="#1e1e1e" stroke-width="1.25" fill="none"/>
<text x="1008.30" y="526.24" font-family="Liberation Sans" font-size="11.2" font-weight="normal" text-anchor="start" fill="#1e1e1e" stroke="#1e1e1e" stroke-width="0.35" textLength="11.6" lengthAdjust="spacingAndGlyphs">0.04</text>
<text x="1024.80" y="526.24" font-family="Liberation Sans" font-size="11.2" font-weight="normal" text-anchor="start" fill="#1e1e1e" stroke="#1e1e1e" stroke-width="0.35" textLength="11.6" lengthAdjust="spacingAndGlyphs">0.08</text>
<text x="777.20" y="541.29" font-family="Liberation Sans" font-size="11.2" font-weight="normal" text-anchor="end" fill="#1e1e1e" stroke="#1e1e1e" stroke-width="0.35" textLength="6.8" lengthAdjust="spacingAndGlyphs">10</text>
<text x="780.60" y="541.29" font-family="Liberation Sans" font-size="11.2" font-weight="normal" text-anchor="start" fill="#1e1e1e" stroke="#1e1e1e" stroke-width="0.35" textLength="29.2" lengthAdjust="spacingAndGlyphs">IIZ1108-3</text>
<path d="M846.00,533.82H850.80M846.48,536.17H850.32M846.48,538.52H850.80M846.48,540.87H850.32M846.58,535.66V541.12M848.88,535.66V539.02M850.22,533.98V539.02M846.24,541.38L848.16,537.34M851.88,533.82H855.72M853.56,536.17H856.20M851.88,538.52H854.04M851.64,540.87H856.20M851.98,533.14V541.54M853.32,533.98V539.02M855.62,533.14V541.54M851.64,541.38L853.56,537.34" stroke="#1e1e1e" stroke-width="1.25" fill="none"/>
<text x="859.30" y="541.29" font-family="Liberation Sans" font-size="11.2" font-weight="normal" text-anchor="start" fill="#1e1e1e" stroke="#1e1e1e" stroke-width="0.35" textLength="10.0" lengthAdjust="spacingAndGlyphs">( II</text>
<text x="940.20" y="541.29" font-family="Liberation Sans" font-size="11.2" font-weight="normal" text-anchor="middle" fill="#1e1e1e" stroke="#1e1e1e" stroke-width="0.35" textLength="3.4" lengthAdjust="spacingAndGlyphs">1</text>
<text x="972.60" y="541.29" font-family="Liberation Sans" font-size="11.2" font-weight="normal" text-anchor="middle" fill="#1e1e1e" stroke="#1e1e1e" stroke-width="0.35" textLength="16.8" lengthAdjust="spacingAndGlyphs">HT150</text>
<text x="1008.30" y="541.29" font-family="Liberation Sans" font-size="11.2" font-weight="normal" text-anchor="start" fill="#1e1e1e" stroke="#1e1e1e" stroke-width="0.35" textLength="8.7" lengthAdjust="spacingAndGlyphs">4.2</text>
<text x="1024.80" y="541.29" font-family="Liberation Sans" font-size="11.2" font-weight="normal" text-anchor="start" fill="#1e1e1e" stroke="#1e1e1e" stroke-width="0.35" textLength="8.7" lengthAdjust="spacingAndGlyphs">4.2</text>
<path d="M1056.52,533.82H1060.68M1056.52,536.17H1060.68M1058.34,538.52H1060.68M1056.00,540.87H1061.20M1056.62,533.14V541.54M1058.60,533.14V539.02M1060.58,535.66V541.12M1056.26,541.38L1058.34,537.34M1062.32,533.82H1067.00M1064.14,536.17H1066.48M1062.32,538.52H1067.00M1061.80,540.87H1067.00M1062.42,533.98V541.54M1063.88,533.98V541.12M1066.38,535.66V539.02M1062.06,541.38L1064.14,537.34" stroke="#1e1e1e" stroke-width="1.25" fill="none"/>
<text x="777.20" y="556.33" font-family="Liberation Sans" font-size="11.2" font-weight="normal" text-anchor="end" fill="#1e1e1e" stroke="#1e1e1e" stroke-width="0.35" textLength="3.4" lengthAdjust="spacingAndGlyphs">9</text>
<text x="780.60" y="556.33" font-family="Liberation Sans" font-size="11.2" font-weight="normal" text-anchor="start" fill="#1e1e1e" stroke="#1e1e1e" stroke-width="0.35" textLength="35.8" lengthAdjust="spacingAndGlyphs">GB9877.1-88</text>
<path d="M846.48,548.86H850.80M846.48,551.21H848.64M846.00,553.57H850.32M846.00,555.92H850.32M846.58,549.03V554.07M848.40,548.19V556.17M850.22,548.19V556.17M846.24,556.42L848.16,552.39M851.88,548.86H856.20M851.64,551.21H856.20M851.88,553.57H854.04M851.88,555.92H855.72M851.98,548.19V556.17M854.28,548.19V556.17M855.62,548.19V556.59M851.64,556.42L853.56,552.39M856.80,548.86H861.60M856.80,551.21H861.12M856.80,553.57H861.60M856.80,555.92H861.60M857.38,549.03V556.59M858.72,549.03V556.17M861.02,550.71V554.07M857.04,556.42L858.96,552.39M862.20,548.86H866.52M862.20,551.21H866.52M862.68,553.57H864.84M862.44,555.92H866.52M862.78,550.71V556.17M864.60,550.71V554.07M866.42,549.03V556.17M862.44,556.42L864.36,552.39" stroke="#1e1e1e" stroke-width="1.25" fill="none"/>
<text x="870.10" y="556.33" font-family="Liberation Sans" font-size="11.2" font-weight="normal" text-anchor="start" fill="#1e1e1e" stroke="#1e1e1e" stroke-width="0.35" textLength="37.0" lengthAdjust="spacingAndGlyphs">PD80X110X12</text>
<text x="940.20" y="556.33" font-family="Liberation Sans" font-size="11.2" font-weight="normal" text-anchor="middle" fill="#1e1e1e" stroke="#1e1e1e" stroke-width="0.35" textLength="3.4" lengthAdjust="spacingAndGlyphs">1</text>
<line x1="960.20" y1="552.11" x2="993.10" y2="552.11" stroke="#1e1e1e" stroke-width="1.1" />
<text x="1008.30" y="556.33" font-family="Liberation Sans" font-size="11.2" font-weight="normal" text-anchor="start" fill="#1e1e1e" stroke="#1e1e1e" stroke-width="0.35" textLength="11.6" lengthAdjust="spacingAndGlyphs">0.07</text>
<text x="1024.80" y="556.33" font-family="Liberation Sans" font-size="11.2" font-weight="normal" text-anchor="start" fill="#1e1e1e" stroke="#1e1e1e" stroke-width="0.35" textLength="11.6" lengthAdjust="spacingAndGlyphs">0.07</text>
<text x="777.20" y="571.38" font-family="Liberation Sans" font-size="11.2" font-weight="normal" text-anchor="end" fill="#1e1e1e" stroke="#1e1e1e" stroke-width="0.35" textLength="3.4" lengthAdjust="spacingAndGlyphs">8</text>
<text x="780.60" y="571.38" font-family="Liberation Sans" font-size="11.2" font-weight="normal" text-anchor="start" fill="#1e1e1e" stroke="#1e1e1e" stroke-width="0.35" textLength="26.0" lengthAdjust="spacingAndGlyphs">GB288-87</text>
<path d="M846.24,563.91H850.80M846.48,566.26H848.64M846.48,568.61H848.64M846.00,570.96H850.32M846.58,565.75V571.63M848.88,563.23V571.63M850.22,564.07V569.11M846.24,571.47L848.16,567.43M851.88,563.91H855.72M853.56,566.26H856.20M853.56,568.61H856.20M851.64,570.96H855.72M851.98,563.23V571.63M853.80,565.75V571.63M855.62,563.23V571.21M851.64,571.47L853.56,567.43" stroke="#1e1e1e" stroke-width="1.25" fill="none"/>
<text x="859.30" y="571.38" font-family="Liberation Sans" font-size="11.2" font-weight="normal" text-anchor="start" fill="#1e1e1e" stroke="#1e1e1e" stroke-width="0.35" textLength="16.0" lengthAdjust="spacingAndGlyphs">53516</text>
<text x="940.20" y="571.38" font-family="Liberation Sans" font-size="11.2" font-weight="normal" text-anchor="middle" fill="#1e1e1e" stroke="#1e1e1e" stroke-width="0.35" textLength="3.4" lengthAdjust="spacingAndGlyphs">1</text>
<line x1="960.20" y1="567.16" x2="993.10" y2="567.16" stroke="#1e1e1e" stroke-width="1.1" />
<text x="1008.30" y="571.38" font-family="Liberation Sans" font-size="11.2" font-weight="normal" text-anchor="start" fill="#1e1e1e" stroke="#1e1e1e" stroke-width="0.35" textLength="8.7" lengthAdjust="spacingAndGlyphs">4.2</text>
<text x="1024.80" y="571.38" font-family="Liberation Sans" font-size="11.2" font-weight="normal" text-anchor="start" fill="#1e1e1e" stroke="#1e1e1e" stroke-width="0.35" textLength="8.7" lengthAdjust="spacingAndGlyphs">4.2</text>
<text x="777.20" y="586.42" font-family="Liberation Sans" font-size="11.2" font-weight="normal" text-anchor="end" fill="#1e1e1e" stroke="#1e1e1e" stroke-width="0.35" textLength="3.4" lengthAdjust="spacingAndGlyphs">7</text>
<text x="780.60" y="586.42" font-family="Liberation Sans" font-size="11.2" font-weight="normal" text-anchor="start" fill="#1e1e1e" stroke="#1e1e1e" stroke-width="0.35" textLength="29.2" lengthAdjust="spacingAndGlyphs">GB1152-79</text>
<text x="846.00" y="586.42" font-family="Liberation Sans" font-size="11.2" font-weight="normal" text-anchor="start" fill="#1e1e1e" stroke="#1e1e1e" stroke-width="0.35" textLength="30.0" lengthAdjust="spacingAndGlyphs">&#243;&#237;&#177;- M8X1</text>
<text x="940.20" y="586.42" font-family="Liberation Sans" font-size="11.2" font-weight="normal" text-anchor="middle" fill="#1e1e1e" stroke="#1e1e1e" stroke-width="0.35" textLength="3.4" lengthAdjust="spacingAndGlyphs">1</text>
<line x1="960.20" y1="582.20" x2="993.10" y2="582.20" stroke="#1e1e1e" stroke-width="1.1" />
<text x="1008.30" y="586.42" font-family="Liberation Sans" font-size="11.2" font-weight="normal" text-anchor="start" fill="#1e1e1e" stroke="#1e1e1e" stroke-width="0.35" textLength="11.6" lengthAdjust="spacingAndGlyphs">0.01</text>
<text x="1024.80" y="586.42" font-family="Liberation Sans" font-size="11.2" font-weight="normal" text-anchor="start" fill="#1e1e1e" stroke="#1e1e1e" stroke-width="0.35" textLength="11.6" lengthAdjust="spacingAndGlyphs">0.01</text>
<text x="777.20" y="601.47" font-family="Liberation Sans" font-size="11.2" font-weight="normal" text-anchor="end" fill="#1e1e1e" stroke="#1e1e1e" stroke-width="0.35" textLength="3.4" lengthAdjust="spacingAndGlyphs">6</text>
<text x="780.60" y="601.47" font-family="Liberation Sans" font-size="11.2" font-weight="normal" text-anchor="start" fill="#1e1e1e" stroke="#1e1e1e" stroke-width="0.35" textLength="35.8" lengthAdjust="spacingAndGlyphs">GB9877.1-88</text>
<path d="M846.48,594.00H850.32M846.24,596.35H848.64M846.00,598.70H850.80M846.48,601.05H850.32M846.58,593.32V601.72M847.92,594.16V601.72M850.22,595.84V601.30M846.24,601.56L848.16,597.52M851.64,594.00H856.20M851.40,596.35H856.20M851.64,598.70H855.72M851.88,601.05H856.20M851.98,594.16V601.30M853.32,594.16V601.72M855.62,594.16V599.20M851.64,601.56L853.56,597.52M856.80,594.00H861.60M857.04,596.35H861.60M857.04,598.70H859.44M857.28,601.05H861.60M857.38,594.16V601.30M858.72,595.84V601.72M861.02,593.32V599.20M857.04,601.56L858.96,597.52M862.20,594.00H866.52M862.68,596.35H864.84M862.44,598.70H867.00M862.20,601.05H867.00M862.78,594.16V601.30M864.12,595.84V599.20M866.42,593.32V601.72M862.44,601.56L864.36,597.52" stroke="#1e1e1e" stroke-width="1.25" fill="none"/>
<text x="870.10" y="601.47" font-family="Liberation Sans" font-size="11.2" font-weight="normal" text-anchor="start" fill="#1e1e1e" stroke="#1e1e1e" stroke-width="0.35" textLength="40.0" lengthAdjust="spacingAndGlyphs">PD100X125X12</text>
<text x="940.20" y="601.47" font-family="Liberation Sans" font-size="11.2" font-weight="normal" text-anchor="middle" fill="#1e1e1e" stroke="#1e1e1e" stroke-width="0.35" textLength="3.4" lengthAdjust="spacingAndGlyphs">1</text>
<line x1="960.20" y1="597.25" x2="993.10" y2="597.25" stroke="#1e1e1e" stroke-width="1.1" />
<text x="1008.30" y="601.47" font-family="Liberation Sans" font-size="11.2" font-weight="normal" text-anchor="start" fill="#1e1e1e" stroke="#1e1e1e" stroke-width="0.35" textLength="11.6" lengthAdjust="spacingAndGlyphs">0.12</text>
<text x="1024.80" y="601.47" font-family="Liberation Sans" font-size="11.2" font-weight="normal" text-anchor="start" fill="#1e1e1e" stroke="#1e1e1e" stroke-width="0.35" textLength="11.6" lengthAdjust="spacingAndGlyphs">0.12</text>
<text x="777.20" y="616.51" font-family="Liberation Sans" font-size="11.2" font-weight="normal" text-anchor="end" fill="#1e1e1e" stroke="#1e1e1e" stroke-width="0.35" textLength="3.4" lengthAdjust="spacingAndGlyphs">5</text>
<text x="780.60" y="616.51" font-family="Liberation Sans" font-size="11.2" font-weight="normal" text-anchor="start" fill="#1e1e1e" stroke="#1e1e1e" stroke-width="0.35" textLength="29.2" lengthAdjust="spacingAndGlyphs">IIZ1108-2</text>
<path d="M846.24,609.04H850.80M846.48,611.39H850.80M846.24,613.75H850.80M846.24,616.10H850.32M846.58,610.89V616.77M848.88,609.21V616.77M850.22,610.89V616.77M846.24,616.60L848.16,612.57M851.64,609.04H855.72M851.64,611.39H854.04M851.40,613.75H854.04M851.64,616.10H856.20M851.98,609.21V616.35M853.32,610.89V614.25M855.62,610.89V614.25M851.64,616.60L853.56,612.57" stroke="#1e1e1e" stroke-width="1.25" fill="none"/>
<text x="859.30" y="616.51" font-family="Liberation Sans" font-size="11.2" font-weight="normal" text-anchor="start" fill="#1e1e1e" stroke="#1e1e1e" stroke-width="0.35" textLength="8.0" lengthAdjust="spacingAndGlyphs">( I</text>
<text x="940.20" y="616.51" font-family="Liberation Sans" font-size="11.2" font-weight="normal" text-anchor="middle" fill="#1e1e1e" stroke="#1e1e1e" stroke-width="0.35" textLength="3.4" lengthAdjust="spacingAndGlyphs">1</text>
<text x="972.60" y="616.51" font-family="Liberation Sans" font-size="11.2" font-weight="normal" text-anchor="middle" fill="#1e1e1e" stroke="#1e1e1e" stroke-width="0.35" textLength="16.8" lengthAdjust="spacingAndGlyphs">HT150</text>
<text x="1008.30" y="616.51" font-family="Liberation Sans" font-size="11.2" font-weight="normal" text-anchor="start" fill="#1e1e1e" stroke="#1e1e1e" stroke-width="0.35" textLength="5.8" lengthAdjust="spacingAndGlyphs">35</text>
<text x="1024.80" y="616.51" font-family="Liberation Sans" font-size="11.2" font-weight="normal" text-anchor="start" fill="#1e1e1e" stroke="#1e1e1e" stroke-width="0.35" textLength="5.8" lengthAdjust="spacingAndGlyphs">35</text>
<path d="M1056.26,609.04H1061.20M1056.52,611.39H1058.86M1058.34,613.75H1058.86M1056.00,616.10H1060.68M1056.62,610.89V616.35M1059.12,609.21V614.25M1060.58,609.21V614.25M1056.26,616.60L1058.34,612.57M1062.06,609.04H1066.48M1064.14,611.39H1067.00M1064.14,613.75H1064.66M1062.32,616.10H1067.00M1062.42,610.89V616.77M1063.88,610.89V614.25M1066.38,608.37V616.77M1062.06,616.60L1064.14,612.57" stroke="#1e1e1e" stroke-width="1.25" fill="none"/>
<text x="777.20" y="631.56" font-family="Liberation Sans" font-size="11.2" font-weight="normal" text-anchor="end" fill="#1e1e1e" stroke="#1e1e1e" stroke-width="0.35" textLength="3.4" lengthAdjust="spacingAndGlyphs">4</text>
<text x="780.60" y="631.56" font-family="Liberation Sans" font-size="11.2" font-weight="normal" text-anchor="start" fill="#1e1e1e" stroke="#1e1e1e" stroke-width="0.35" textLength="22.8" lengthAdjust="spacingAndGlyphs">GB93-87</text>
<path d="M846.24,624.09H850.80M846.48,626.44H850.80M846.24,628.79H848.64M846.48,631.14H850.32M846.58,624.25V631.81M848.40,623.41V631.81M850.22,623.41V631.81M846.24,631.65L848.16,627.62M851.88,624.09H856.20M851.88,626.44H856.20M853.56,628.79H856.20M851.40,631.14H855.72M851.98,623.41V631.39M853.80,623.41V631.39M855.62,624.25V629.29M851.64,631.65L853.56,627.62" stroke="#1e1e1e" stroke-width="1.25" fill="none"/>
<text x="859.30" y="631.56" font-family="Liberation Sans" font-size="11.2" font-weight="normal" text-anchor="start" fill="#1e1e1e" stroke="#1e1e1e" stroke-width="0.35" textLength="6.0" lengthAdjust="spacingAndGlyphs">12</text>
<text x="940.20" y="631.56" font-family="Liberation Sans" font-size="11.2" font-weight="normal" text-anchor="middle" fill="#1e1e1e" stroke="#1e1e1e" stroke-width="0.35" textLength="3.4" lengthAdjust="spacingAndGlyphs">4</text>
<line x1="960.20" y1="627.34" x2="993.10" y2="627.34" stroke="#1e1e1e" stroke-width="1.1" />
<text x="1008.30" y="631.56" font-family="Liberation Sans" font-size="11.2" font-weight="normal" text-anchor="start" fill="#1e1e1e" stroke="#1e1e1e" stroke-width="0.35" textLength="17.4" lengthAdjust="spacingAndGlyphs">0.0046</text>
<text x="1025.30" y="631.56" font-family="Liberation Sans" font-size="11.2" font-weight="normal" text-anchor="start" fill="#1e1e1e" stroke="#1e1e1e" stroke-width="0.35" textLength="17.4" lengthAdjust="spacingAndGlyphs">0.0184</text>
<text x="777.20" y="646.60" font-family="Liberation Sans" font-size="11.2" font-weight="normal" text-anchor="end" fill="#1e1e1e" stroke="#1e1e1e" stroke-width="0.35" textLength="3.4" lengthAdjust="spacingAndGlyphs">3</text>
<text x="780.60" y="646.60" font-family="Liberation Sans" font-size="11.2" font-weight="normal" text-anchor="start" fill="#1e1e1e" stroke="#1e1e1e" stroke-width="0.35" textLength="22.8" lengthAdjust="spacingAndGlyphs">GB41-86</text>
<path d="M846.48,639.13H850.80M848.16,641.48H850.32M846.24,643.84H848.64M846.00,646.19H850.32M846.58,640.98V646.44M848.88,639.30V644.34M850.22,640.98V646.86M846.24,646.69L848.16,642.66M851.88,639.13H855.72M851.88,641.48H855.72M853.56,643.84H856.20M851.88,646.19H855.72M851.98,638.46V646.44M853.32,640.98V646.44M855.62,639.30V646.44M851.64,646.69L853.56,642.66" stroke="#1e1e1e" stroke-width="1.25" fill="none"/>
<text x="859.30" y="646.60" font-family="Liberation Sans" font-size="11.2" font-weight="normal" text-anchor="start" fill="#1e1e1e" stroke="#1e1e1e" stroke-width="0.35" textLength="10.0" lengthAdjust="spacingAndGlyphs">M12</text>
<text x="940.20" y="646.60" font-family="Liberation Sans" font-size="11.2" font-weight="normal" text-anchor="middle" fill="#1e1e1e" stroke="#1e1e1e" stroke-width="0.35" textLength="3.4" lengthAdjust="spacingAndGlyphs">4</text>
<line x1="960.20" y1="642.38" x2="993.10" y2="642.38" stroke="#1e1e1e" stroke-width="1.1" />
<text x="1008.30" y="646.60" font-family="Liberation Sans" font-size="11.2" font-weight="normal" text-anchor="start" fill="#1e1e1e" stroke="#1e1e1e" stroke-width="0.35" textLength="14.5" lengthAdjust="spacingAndGlyphs">0.016</text>
<text x="1025.30" y="646.60" font-family="Liberation Sans" font-size="11.2" font-weight="normal" text-anchor="start" fill="#1e1e1e" stroke="#1e1e1e" stroke-width="0.35" textLength="14.5" lengthAdjust="spacingAndGlyphs">0.064</text>
<text x="777.20" y="661.65" font-family="Liberation Sans" font-size="11.2" font-weight="normal" text-anchor="end" fill="#1e1e1e" stroke="#1e1e1e" stroke-width="0.35" textLength="3.4" lengthAdjust="spacingAndGlyphs">2</text>
<text x="780.60" y="661.65" font-family="Liberation Sans" font-size="11.2" font-weight="normal" text-anchor="start" fill="#1e1e1e" stroke="#1e1e1e" stroke-width="0.35" textLength="29.2" lengthAdjust="spacingAndGlyphs">GB5780-86</text>
<path d="M846.24,654.18H850.80M846.48,656.53H850.80M846.48,658.88H848.64M846.48,661.23H850.32M846.58,654.34V661.48M848.40,653.50V659.38M850.22,656.02V659.38M846.24,661.74L848.16,657.70M851.88,654.18H856.20M851.88,656.53H854.04M853.56,658.88H856.20M851.40,661.23H856.20M851.98,654.34V659.38M853.80,654.34V659.38M855.62,653.50V661.90M851.64,661.74L853.56,657.70" stroke="#1e1e1e" stroke-width="1.25" fill="none"/>
<text x="859.30" y="661.65" font-family="Liberation Sans" font-size="11.2" font-weight="normal" text-anchor="start" fill="#1e1e1e" stroke="#1e1e1e" stroke-width="0.35" textLength="26.0" lengthAdjust="spacingAndGlyphs">M12X105</text>
<text x="940.20" y="661.65" font-family="Liberation Sans" font-size="11.2" font-weight="normal" text-anchor="middle" fill="#1e1e1e" stroke="#1e1e1e" stroke-width="0.35" textLength="3.4" lengthAdjust="spacingAndGlyphs">4</text>
<line x1="960.20" y1="657.43" x2="993.10" y2="657.43" stroke="#1e1e1e" stroke-width="1.1" />
<text x="1008.30" y="661.65" font-family="Liberation Sans" font-size="11.2" font-weight="normal" text-anchor="start" fill="#1e1e1e" stroke="#1e1e1e" stroke-width="0.35" textLength="14.5" lengthAdjust="spacingAndGlyphs">0.108</text>
<text x="1025.30" y="661.65" font-family="Liberation Sans" font-size="11.2" font-weight="normal" text-anchor="start" fill="#1e1e1e" stroke="#1e1e1e" stroke-width="0.35" textLength="14.5" lengthAdjust="spacingAndGlyphs">0.433</text>
<text x="777.20" y="676.69" font-family="Liberation Sans" font-size="11.2" font-weight="normal" text-anchor="end" fill="#1e1e1e" stroke="#1e1e1e" stroke-width="0.35" textLength="3.4" lengthAdjust="spacingAndGlyphs">1</text>
<text x="780.60" y="676.69" font-family="Liberation Sans" font-size="11.2" font-weight="normal" text-anchor="start" fill="#1e1e1e" stroke="#1e1e1e" stroke-width="0.35" textLength="29.2" lengthAdjust="spacingAndGlyphs">IIZ1108-1</text>
<path d="M846.48,669.22H850.32M846.24,671.57H850.80M848.16,673.93H850.80M846.24,676.28H850.80M846.58,668.55V676.95M848.40,669.39V676.95M850.22,671.07V674.43M846.24,676.78L848.16,672.75M851.40,669.22H855.72M853.56,671.57H856.20M851.64,673.93H856.20M851.88,676.28H855.72M851.98,668.55V674.43M854.28,669.39V676.53M855.62,669.39V676.53M851.64,676.78L853.56,672.75" stroke="#1e1e1e" stroke-width="1.25" fill="none"/>
<text x="940.20" y="676.69" font-family="Liberation Sans" font-size="11.2" font-weight="normal" text-anchor="middle" fill="#1e1e1e" stroke="#1e1e1e" stroke-width="0.35" textLength="3.4" lengthAdjust="spacingAndGlyphs">1</text>
<text x="972.60" y="676.69" font-family="Liberation Sans" font-size="11.2" font-weight="normal" text-anchor="middle" fill="#1e1e1e" stroke="#1e1e1e" stroke-width="0.35" textLength="16.8" lengthAdjust="spacingAndGlyphs">HT250</text>
<text x="1008.30" y="676.69" font-family="Liberation Sans" font-size="11.2" font-weight="normal" text-anchor="start" fill="#1e1e1e" stroke="#1e1e1e" stroke-width="0.35" textLength="11.6" lengthAdjust="spacingAndGlyphs">14.7</text>
<text x="1024.80" y="676.69" font-family="Liberation Sans" font-size="11.2" font-weight="normal" text-anchor="start" fill="#1e1e1e" stroke="#1e1e1e" stroke-width="0.35" textLength="11.6" lengthAdjust="spacingAndGlyphs">14.7</text>
<path d="M1056.52,669.22H1061.20M1056.52,671.57H1061.20M1056.26,673.93H1061.20M1056.52,676.28H1061.20M1056.62,668.55V676.95M1058.08,668.55V674.43M1060.58,668.55V676.95M1056.26,676.78L1058.34,672.75M1062.32,669.22H1066.48M1064.14,671.57H1067.00M1064.14,673.93H1067.00M1062.06,676.28H1066.48M1062.42,668.55V674.43M1063.88,669.39V676.95M1066.38,668.55V676.53M1062.06,676.78L1064.14,672.75" stroke="#1e1e1e" stroke-width="1.25" fill="none"/>
<path d="M767.80,681.86H773.50M768.10,683.82H772.90M767.50,685.78H773.50M768.10,687.74H773.50M768.22,683.40V686.20M771.10,682.00V687.95M772.78,682.00V686.20M767.80,688.16L770.20,684.80" stroke="#1e1e1e" stroke-width="1.25" fill="none"/>
<path d="M768.10,689.36H773.50M768.10,691.32H772.90M767.80,693.28H770.80M768.10,695.24H772.90M768.22,689.50V695.80M770.50,689.50V695.45M772.78,689.50V693.70M767.80,695.66L770.20,692.30" stroke="#1e1e1e" stroke-width="1.25" fill="none"/>
<path d="M792.80,685.94H797.90M795.20,688.18H798.50M795.20,690.42H795.80M792.50,692.66H798.50M793.22,686.10V692.90M796.10,685.30V690.90M797.78,685.30V690.90M792.80,693.14L795.20,689.30" stroke="#1e1e1e" stroke-width="1.25" fill="none"/>
<path d="M823.80,685.94H828.90M826.20,688.18H826.80M823.50,690.42H826.80M823.80,692.66H828.90M824.22,685.30V693.30M827.10,687.70V692.90M828.78,685.30V693.30M823.80,693.14L826.20,689.30" stroke="#1e1e1e" stroke-width="1.25" fill="none"/>
<path d="M863.60,685.94H869.00M863.00,688.18H866.30M863.00,690.42H869.00M863.30,692.66H869.00M863.72,685.30V693.30M866.00,685.30V690.90M868.28,687.70V692.90M863.30,693.14L865.70,689.30" stroke="#1e1e1e" stroke-width="1.25" fill="none"/>
<path d="M902.10,685.94H907.50M902.10,688.18H906.90M904.20,690.42H906.90M901.80,692.66H906.90M902.22,687.70V693.30M904.50,686.10V690.90M906.78,685.30V690.90M901.80,693.14L904.20,689.30" stroke="#1e1e1e" stroke-width="1.25" fill="none"/>
<path d="M932.50,685.94H937.00M932.00,688.18H937.00M932.25,690.42H937.00M932.50,692.66H936.50M932.60,685.30V693.30M934.50,686.10V693.30M936.40,686.10V692.90M932.25,693.14L934.25,689.30M938.10,685.94H942.10M937.60,688.18H942.60M937.60,690.42H942.10M938.10,692.66H942.10M938.20,685.30V690.90M940.10,686.10V690.90M942.00,686.10V692.90M937.85,693.14L939.85,689.30" stroke="#1e1e1e" stroke-width="1.25" fill="none"/>
<path d="M956.50,685.94H962.50M956.80,688.18H961.90M959.20,690.42H962.50M956.50,692.66H961.90M957.22,685.30V690.90M959.50,685.30V693.30M961.78,685.30V692.90M956.80,693.14L959.20,689.30" stroke="#1e1e1e" stroke-width="1.25" fill="none"/>
<path d="M978.00,685.94H983.40M978.30,688.18H984.00M980.70,690.42H984.00M978.00,692.66H983.40M978.72,686.10V690.90M980.40,685.30V693.30M983.28,687.70V693.30M978.30,693.14L980.70,689.30" stroke="#1e1e1e" stroke-width="1.25" fill="none"/>
<path d="M1011.50,681.16H1015.50M1011.50,683.12H1016.00M1011.50,685.08H1016.00M1011.50,687.04H1015.50M1011.60,680.60V685.50M1013.00,681.30V685.50M1015.40,681.30V687.25M1011.25,687.46L1013.25,684.10" stroke="#1e1e1e" stroke-width="1.25" fill="none"/>
<text x="1018.00" y="687.60" font-family="Liberation Sans" font-size="9" font-weight="normal" text-anchor="start" fill="#1e1e1e" stroke="#1e1e1e" stroke-width="0.35" textLength="7.0" lengthAdjust="spacingAndGlyphs">OM</text>
<path d="M1031.00,681.16H1035.50M1033.25,683.12H1036.00M1031.50,685.08H1036.00M1031.00,687.04H1035.50M1031.60,681.30V685.50M1034.00,681.30V687.60M1035.40,681.30V685.50M1031.25,687.46L1033.25,684.10" stroke="#1e1e1e" stroke-width="1.25" fill="none"/>
<text x="1038.00" y="687.60" font-family="Liberation Sans" font-size="9" font-weight="normal" text-anchor="start" fill="#1e1e1e" stroke="#1e1e1e" stroke-width="0.35" textLength="7.0" lengthAdjust="spacingAndGlyphs">OM</text>
<text x="1008.50" y="696.80" font-family="Liberation Sans" font-size="9" font-weight="normal" text-anchor="start" fill="#1e1e1e" stroke="#1e1e1e" stroke-width="0.35" textLength="7.0" lengthAdjust="spacingAndGlyphs">OM</text>
<path d="M1019.50,690.36H1024.00M1021.25,692.32H1021.75M1021.25,694.28H1023.50M1019.50,696.24H1023.50M1019.60,689.80V696.45M1021.50,689.80V694.70M1023.40,690.50V694.70M1019.25,696.66L1021.25,693.30" stroke="#1e1e1e" stroke-width="1.25" fill="none"/>
<text x="1027.00" y="696.30" font-family="Liberation Sans" font-size="6" font-weight="normal" text-anchor="start" fill="#1e1e1e" stroke="#1e1e1e" stroke-width="0.35" textLength="9.0" lengthAdjust="spacingAndGlyphs">(kg)</text>
<path d="M1053.00,685.94H1059.00M1053.60,688.18H1059.00M1053.60,690.42H1056.30M1053.60,692.66H1059.00M1053.72,686.10V690.90M1056.00,687.70V693.30M1058.28,687.70V690.90M1053.30,693.14L1055.70,689.30" stroke="#1e1e1e" stroke-width="1.25" fill="none"/>
<path d="M1088.50,685.94H1093.90M1088.50,688.18H1094.50M1091.20,690.42H1094.50M1089.10,692.66H1094.50M1089.22,685.30V692.90M1091.50,685.30V690.90M1093.78,687.70V692.90M1088.80,693.14L1091.20,689.30" stroke="#1e1e1e" stroke-width="1.25" fill="none"/>
<line x1="819.40" y1="697.70" x2="819.40" y2="773.50" stroke="#1e1e1e" stroke-width="1.3" />
<line x1="876.40" y1="697.70" x2="876.40" y2="773.50" stroke="#1e1e1e" stroke-width="1.3" />
<line x1="988.50" y1="697.70" x2="988.50" y2="773.50" stroke="#1e1e1e" stroke-width="1.3" />
<line x1="763.30" y1="732.00" x2="876.40" y2="732.00" stroke="#1e1e1e" stroke-width="1.3" />
<line x1="763.30" y1="742.00" x2="876.40" y2="742.00" stroke="#1e1e1e" stroke-width="1.3" />
<line x1="763.30" y1="752.80" x2="876.40" y2="752.80" stroke="#1e1e1e" stroke-width="1.3" />
<line x1="763.30" y1="763.40" x2="876.40" y2="763.40" stroke="#1e1e1e" stroke-width="1.3" />
<line x1="791.50" y1="732.00" x2="791.50" y2="763.40" stroke="#1e1e1e" stroke-width="1.3" />
<line x1="847.60" y1="732.00" x2="847.60" y2="763.40" stroke="#1e1e1e" stroke-width="1.3" />
<line x1="819.40" y1="709.20" x2="876.40" y2="709.20" stroke="#1e1e1e" stroke-width="1.3" />
<line x1="819.40" y1="720.40" x2="876.40" y2="720.40" stroke="#1e1e1e" stroke-width="1.3" />
<line x1="876.40" y1="750.70" x2="988.50" y2="750.70" stroke="#1e1e1e" stroke-width="1.3" />
<line x1="988.50" y1="720.50" x2="1101.50" y2="720.50" stroke="#1e1e1e" stroke-width="1.3" />
<line x1="988.50" y1="734.20" x2="1101.50" y2="734.20" stroke="#1e1e1e" stroke-width="1.3" />
<line x1="988.50" y1="747.70" x2="1101.50" y2="747.70" stroke="#1e1e1e" stroke-width="1.3" />
<line x1="1045.50" y1="720.50" x2="1045.50" y2="747.70" stroke="#1e1e1e" stroke-width="1.3" />
<line x1="1078.80" y1="720.50" x2="1078.80" y2="747.70" stroke="#1e1e1e" stroke-width="1.3" />
<line x1="1002.80" y1="734.20" x2="1002.80" y2="747.70" stroke="#1e1e1e" stroke-width="1.3" />
<line x1="1017.30" y1="734.20" x2="1017.30" y2="747.70" stroke="#1e1e1e" stroke-width="1.3" />
<line x1="1031.90" y1="734.20" x2="1031.90" y2="747.70" stroke="#1e1e1e" stroke-width="1.3" />
<line x1="1069.70" y1="747.70" x2="1069.70" y2="773.50" stroke="#1e1e1e" stroke-width="1.3" />
<line x1="1069.70" y1="760.50" x2="1101.50" y2="760.50" stroke="#1e1e1e" stroke-width="1.3" />
<path d="M769.4,709.2 L788.6,705.2 L788.6,724.4 L769.4,720.4 Z" fill="none" stroke="#1e1e1e" stroke-width="1.0" />
<line x1="767.00" y1="714.80" x2="793.40" y2="714.80" stroke="#1e1e1e" stroke-width="0.9" />
<circle cx="803.80" cy="714.80" r="9.60" fill="none" stroke="#1e1e1e" stroke-width="1.0"/>
<circle cx="803.80" cy="714.80" r="5.60" fill="none" stroke="#1e1e1e" stroke-width="1.0"/>
<line x1="803.80" y1="703.60" x2="803.80" y2="728.40" stroke="#1e1e1e" stroke-width="0.9" />
<line x1="792.60" y1="714.80" x2="815.50" y2="714.80" stroke="#1e1e1e" stroke-width="0.9" />
<text x="1035.00" y="715.50" font-family="Liberation Sans" font-size="14.5" font-weight="normal" text-anchor="middle" fill="#1e1e1e" stroke="#1e1e1e" stroke-width="0.25" textLength="39.5" lengthAdjust="spacingAndGlyphs">DT IZ1308</text>
<path d="M1048.62,724.79H1053.97M1048.93,726.86H1054.60M1051.13,728.94H1054.60M1048.30,731.01H1053.97M1049.06,724.20V729.38M1051.45,724.94V729.38M1053.84,726.42V729.38M1048.62,731.45L1051.13,727.90M1056.03,724.79H1061.70M1055.71,726.86H1061.70M1055.40,728.94H1058.86M1056.03,731.01H1061.07M1056.16,724.20V731.23M1057.92,724.94V731.60M1060.94,724.94V729.38M1055.71,731.45L1058.23,727.90" stroke="#1e1e1e" stroke-width="1.25" fill="none"/>
<text x="1064.50" y="731.20" font-family="Liberation Sans" font-size="9" font-weight="normal" text-anchor="start" fill="#1e1e1e" stroke="#1e1e1e" stroke-width="0.35" textLength="10.0" lengthAdjust="spacingAndGlyphs">(kg)</text>
<text x="1060.00" y="745.00" font-family="Liberation Sans" font-size="11" font-weight="normal" text-anchor="middle" fill="#1e1e1e" stroke="#1e1e1e" stroke-width="0.35" textLength="9.4" lengthAdjust="spacingAndGlyphs">215</text>
<path d="M998.23,755.87H1002.14M1000.07,758.56H1002.60M998.23,761.24H1000.53M998.46,763.93H1002.60M998.55,757.98V764.22M1000.30,756.06V764.22M1002.05,757.98V764.22M998.23,764.51L1000.07,759.90M1003.43,755.87H1007.80M1003.43,758.56H1007.34M1003.43,761.24H1007.34M1003.43,763.93H1007.80M1003.75,755.10V764.22M1005.96,755.10V764.22M1007.25,756.06V761.82M1003.43,764.51L1005.27,759.90M1008.63,755.87H1012.54M1010.47,758.56H1010.93M1008.40,761.24H1010.93M1008.86,763.93H1012.54M1008.95,756.06V761.82M1010.70,756.06V761.82M1012.45,755.10V761.82M1008.63,764.51L1010.47,759.90M1013.83,755.87H1017.74M1013.60,758.56H1018.20M1013.83,761.24H1018.20M1014.06,763.93H1017.74M1014.15,757.98V764.70M1015.44,757.98V764.70M1017.65,756.06V761.82M1013.83,764.51L1015.67,759.90M1018.80,755.87H1023.40M1019.26,758.56H1022.94M1018.80,761.24H1022.94M1019.26,763.93H1022.94M1019.35,757.98V764.70M1021.56,755.10V761.82M1022.85,756.06V764.22M1019.03,764.51L1020.87,759.90M1024.46,755.87H1028.14M1024.46,758.56H1026.53M1024.23,761.24H1026.53M1024.46,763.93H1028.60M1024.55,756.06V761.82M1025.84,756.06V764.70M1028.05,757.98V761.82M1024.23,764.51L1026.07,759.90M1029.20,755.87H1033.34M1031.27,758.56H1033.80M1031.27,761.24H1033.80M1029.66,763.93H1033.80M1029.75,756.06V764.70M1031.04,757.98V764.22M1033.25,756.06V764.22M1029.43,764.51L1031.27,759.90M1034.40,755.87H1039.00M1034.63,758.56H1039.00M1036.47,761.24H1038.54M1034.40,763.93H1039.00M1034.95,756.06V761.82M1036.24,755.10V764.22M1038.45,757.98V764.22M1034.63,764.51L1036.47,759.90M1040.06,755.87H1043.74M1039.83,758.56H1042.13M1039.60,761.24H1043.74M1040.06,763.93H1043.74M1040.15,757.98V764.22M1042.36,757.98V764.70M1043.65,755.10V761.82M1039.83,764.51L1041.67,759.90M1045.26,755.87H1049.40M1045.03,758.56H1048.94M1044.80,761.24H1047.33M1045.26,763.93H1049.40M1045.35,756.06V761.82M1046.64,755.10V764.22M1048.85,756.06V761.82M1045.03,764.51L1046.87,759.90M1050.46,755.87H1054.14M1050.23,758.56H1054.14M1052.07,761.24H1054.14M1050.46,763.93H1054.14M1050.55,755.10V761.82M1052.76,756.06V764.70M1054.05,755.10V764.22M1050.23,764.51L1052.07,759.90M1055.66,755.87H1059.34M1055.43,758.56H1059.34M1055.43,761.24H1057.73M1055.20,763.93H1059.80M1055.75,756.06V764.70M1057.04,756.06V764.70M1059.25,757.98V764.22M1055.43,764.51L1057.27,759.90" stroke="#1e1e1e" stroke-width="1.25" fill="none"/>
<path d="M1073.70,750.84H1080.90M1073.30,753.08H1080.90M1076.50,755.32H1080.90M1073.70,757.56H1080.90M1073.86,750.20V755.80M1076.10,752.60V757.80M1079.94,751.00V755.80M1073.30,758.04L1076.50,754.20" stroke="#1e1e1e" stroke-width="1.25" fill="none"/>
<path d="M1093.80,750.84H1100.10M1093.45,753.08H1100.10M1096.25,755.32H1096.95M1093.10,757.56H1099.40M1093.94,751.00V757.80M1096.60,750.20V757.80M1099.26,752.60V758.20M1093.45,758.04L1096.25,754.20" stroke="#1e1e1e" stroke-width="1.25" fill="none"/>
<path d="M1072.90,763.28H1080.10M1073.30,765.66H1077.30M1073.70,768.04H1077.30M1072.90,770.42H1080.90M1073.86,762.60V768.55M1077.70,762.60V771.10M1079.94,765.15V771.10M1073.30,770.93L1076.50,766.85" stroke="#1e1e1e" stroke-width="1.25" fill="none"/>
<path d="M1093.10,763.28H1099.40M1093.45,765.66H1100.10M1093.80,768.04H1099.40M1093.45,770.42H1099.40M1093.94,765.15V770.68M1096.60,762.60V770.68M1099.26,765.15V770.68M1093.45,770.93L1096.25,766.85" stroke="#1e1e1e" stroke-width="1.25" fill="none"/>
<path d="M907.4,717.7H911.4 M907.9,720.0H911.0V725.0H907.9Z M907.9,722.5H911.0 M907.2,727.0H911.6 M909.4,715.8V731.3M914.9,716.0V729.5 M912.7,720.0H917.0V729.5H912.7Z M912.7,724.7H917.0M925.8,717.0H930.5999999999999L928.3,719.5 M928.3,719.0V730.5 L926.9,729.7 M926.3,721.8H930.3 M926.3,724.2H930.3 M925.3,726.7H931.3 M927.0999999999999,723.1L923.5999999999999,729.0 M929.5,723.1L933.3,729.0M945.0,715.5V717.3 M940.8,717.8H949.8 M941.0999999999999,717.8V725.5Q941.0,729.0 939.8,731.0 M943.5999999999999,720.0V722.5L942.4,725.0 M943.5999999999999,722.5L944.8,724.5 M947.1999999999999,720.0V722.5L946.0,725.0 M947.1999999999999,722.5L948.5999999999999,724.5 M945.5999999999999,723.5V730.1 M942.8,726.7H948.5999999999999 M942.3,730.1H949.8" stroke="#1e1e1e" stroke-width="1.3" fill="none"/>
<path d="M918.00,760.08H922.80M918.00,762.46H923.40M917.70,764.84H923.40M917.70,767.22H923.40M918.12,759.40V765.35M920.40,759.40V767.48M922.68,759.40V767.90M917.70,767.73L920.10,763.65M924.80,760.08H930.20M926.90,762.46H929.60M924.80,764.84H927.50M924.20,767.22H930.20M924.92,761.95V767.90M927.20,761.95V767.90M929.48,759.40V767.48M924.50,767.73L926.90,763.65" stroke="#1e1e1e" stroke-width="1.25" fill="none"/>
<path d="M822.03,701.78H826.80M822.03,703.79H826.80M822.03,705.81H826.27M822.03,707.82H826.80M822.14,701.92V706.24M823.62,701.20V708.40M826.16,703.36V706.24M821.76,708.26L823.88,704.80M827.73,701.78H832.50M827.73,703.79H832.50M827.20,705.81H830.12M827.47,707.82H831.97M827.84,703.36V708.40M829.85,701.92V708.04M831.86,703.36V708.04M827.47,708.26L829.59,704.80M832.90,701.78H837.67M835.28,703.79H837.67M832.90,705.81H835.81M832.90,707.82H837.67M833.54,701.92V708.04M836.08,701.20V708.40M837.56,701.92V708.40M833.16,708.26L835.28,704.80" stroke="#1e1e1e" stroke-width="1.25" fill="none"/>
<path d="M765.20,734.18H771.00M765.51,736.23H770.39M765.20,738.27H771.00M765.51,740.32H770.39M765.63,733.60V738.71M767.34,735.79V738.71M770.27,734.33V738.71M765.20,740.75L767.64,737.25" stroke="#1e1e1e" stroke-width="1.25" fill="none"/>
<path d="M778.20,734.18H783.24M778.76,736.23H783.80M778.76,738.27H781.28M778.20,740.32H783.80M778.87,735.79V740.90M781.56,734.33V740.90M783.13,735.79V740.90M778.48,740.75L780.72,737.25" stroke="#1e1e1e" stroke-width="1.25" fill="none"/>
<path d="M765.51,744.34H770.39M765.20,746.58H768.25M764.90,748.82H768.25M764.90,751.06H771.00M765.63,743.70V749.30M767.34,743.70V749.30M770.27,743.70V751.70M765.20,751.54L767.64,747.70" stroke="#1e1e1e" stroke-width="1.25" fill="none"/>
<path d="M778.48,744.34H783.24M780.72,746.58H783.24M780.72,748.82H783.24M778.76,751.06H783.24M778.87,746.10V749.30M781.00,746.10V751.30M783.13,746.10V751.70M778.48,751.54L780.72,747.70" stroke="#1e1e1e" stroke-width="1.25" fill="none"/>
<path d="M764.90,753.97H771.00M767.64,756.32H771.00M764.90,758.68H771.00M765.20,761.03H770.39M765.63,754.14V759.18M767.34,755.82V759.18M770.27,753.30V761.28M765.20,761.53L767.64,757.50" stroke="#1e1e1e" stroke-width="1.25" fill="none"/>
<path d="M778.76,753.97H783.24M778.76,756.32H783.80M778.76,758.68H783.80M778.48,761.03H783.24M778.87,753.30V759.18M781.56,754.14V759.18M783.13,755.82V759.18M778.48,761.53L780.72,757.50" stroke="#1e1e1e" stroke-width="1.25" fill="none"/>
<path d="M821.77,734.18H826.90M821.77,736.23H826.90M822.04,738.27H826.36M822.04,740.32H826.90M822.15,735.79V740.90M824.20,733.60V738.71M826.25,734.33V740.90M821.77,740.75L823.93,737.25M827.57,734.18H832.70M827.57,736.23H832.70M827.30,738.27H832.16M827.57,740.32H832.16M827.95,733.60V738.71M829.46,735.79V738.71M832.05,734.33V738.71M827.57,740.75L829.73,737.25M833.10,734.18H837.96M833.10,736.23H837.96M833.10,738.27H836.07M833.10,740.32H837.96M833.75,734.33V738.71M836.34,735.79V740.90M837.85,733.60V740.90M833.37,740.75L835.53,737.25M839.44,734.18H843.76M839.17,736.23H843.76M839.17,738.27H841.87M838.90,740.32H843.76M839.55,733.60V740.90M842.14,735.79V740.53M843.65,734.33V738.71M839.17,740.75L841.33,737.25" stroke="#1e1e1e" stroke-width="1.25" fill="none"/>
<path d="M821.83,744.34H827.35M821.83,746.58H828.00M822.15,748.82H828.00M822.15,751.06H828.00M822.28,744.50V751.30M824.10,744.50V749.30M827.22,746.10V751.30M821.83,751.54L824.42,747.70" stroke="#1e1e1e" stroke-width="1.25" fill="none"/>
<path d="M834.05,744.34H839.00M834.05,746.58H836.52M835.98,748.82H836.52M834.05,751.06H838.45M834.16,744.50V751.70M836.25,743.70V751.70M838.34,746.10V749.30M833.77,751.54L835.98,747.70" stroke="#1e1e1e" stroke-width="1.25" fill="none"/>
<path d="M821.50,753.97H826.90M821.77,756.32H826.90M821.50,758.68H826.36M822.04,761.03H826.36M822.15,754.14V761.28M823.66,753.30V761.28M826.25,755.82V759.18M821.77,761.53L823.93,757.50M827.84,753.97H832.70M827.84,756.32H832.16M827.84,758.68H832.16M827.57,761.03H832.70M827.95,753.30V761.70M829.46,753.30V761.28M832.05,755.82V761.70M827.57,761.53L829.73,757.50M833.10,753.97H838.50M833.64,756.32H836.07M835.53,758.68H838.50M833.10,761.03H838.50M833.75,753.30V761.28M836.34,753.30V761.28M837.85,754.14V761.28M833.37,761.53L835.53,757.50M839.17,753.97H844.30M839.17,756.32H844.30M839.17,758.68H841.87M839.44,761.03H844.30M839.55,753.30V761.28M842.14,755.82V761.70M843.65,755.82V761.28M839.17,761.53L841.33,757.50" stroke="#1e1e1e" stroke-width="1.25" fill="none"/>
<text x="764.50" y="771.70" font-family="Liberation Sans" font-size="10" font-weight="normal" text-anchor="start" fill="#1e1e1e" stroke="#1e1e1e" stroke-width="0.35" textLength="33.0" lengthAdjust="spacingAndGlyphs">&#189;X&#185;&#164;&#210;&#213;</text>
<path d="M821.77,765.08H827.00M823.98,767.09H827.00M821.77,769.11H826.45M822.05,771.12H827.00M822.16,766.66V769.54M824.80,766.66V769.54M826.34,765.22V771.34M821.77,771.56L823.98,768.10M827.77,765.08H832.45M827.77,767.09H833.00M828.05,769.11H832.45M827.77,771.12H833.00M828.16,765.22V771.70M829.70,764.50V769.54M832.34,766.66V769.54M827.77,771.56L829.98,768.10" stroke="#1e1e1e" stroke-width="1.25" fill="none"/>
<text x="847.00" y="771.70" font-family="Liberation Sans" font-size="9" font-weight="normal" text-anchor="start" fill="#1e1e1e" stroke="#1e1e1e" stroke-width="0.35" textLength="13.0" lengthAdjust="spacingAndGlyphs">1997</text>
</svg>
</body></html>
